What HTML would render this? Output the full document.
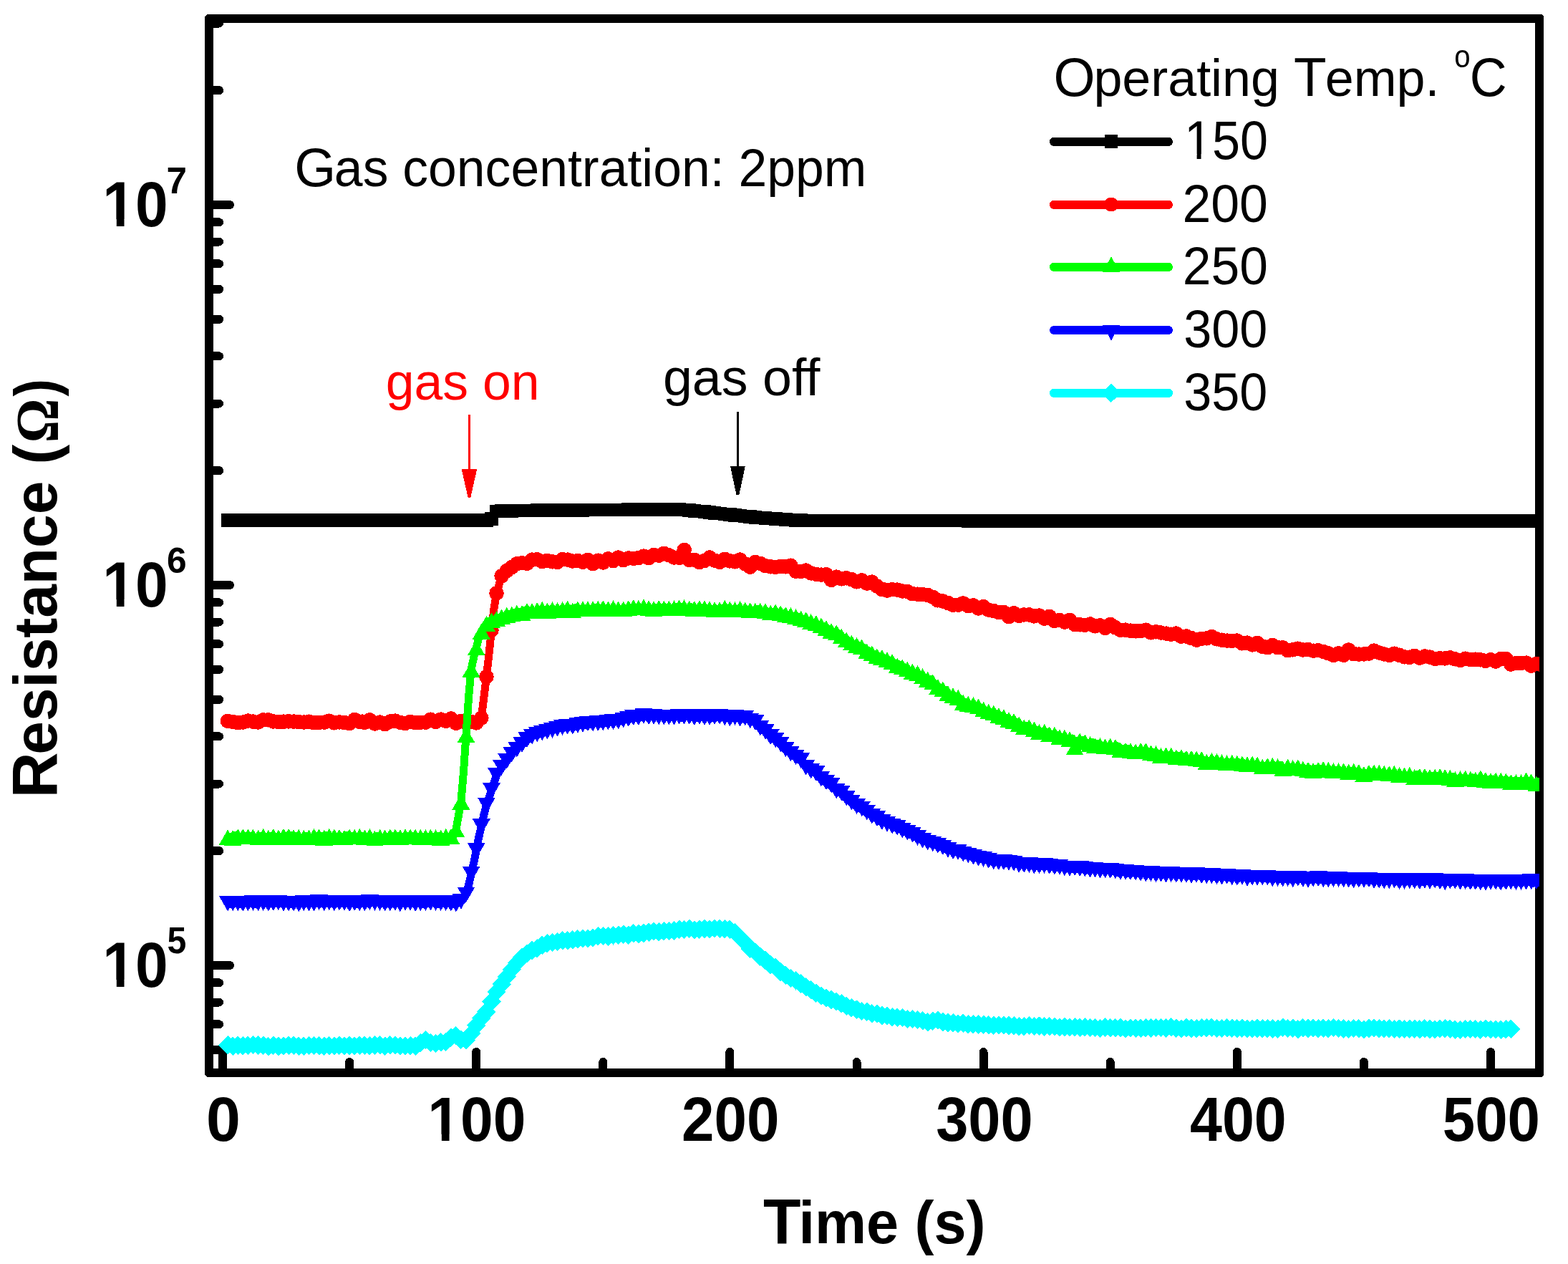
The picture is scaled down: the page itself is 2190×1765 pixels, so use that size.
<!DOCTYPE html><html><head><meta charset="utf-8"><title>Resistance vs Time</title>
<style>html,body{margin:0;padding:0;background:#fff}svg{display:block}</style></head><body>
<svg width="2190" height="1765" viewBox="0 0 2190 1765" shape-rendering="crispEdges">
<rect width="2190" height="1765" fill="#fff"/>
<defs><clipPath id="pa"><rect x="292" y="26" width="1858" height="1472"/></clipPath><clipPath id="footb85"><path clip-rule="evenodd" d="M-3000 -3000H3000V3000H-3000ZM-5 -9.10V3H20.17V-9.10ZM31.25 -9.10V3H46.33V-9.10Z"/></clipPath><clipPath id="footn72"><path clip-rule="evenodd" d="M-3000 -3000H3000V3000H-3000ZM-5 -6.36V3H18.20V-6.36ZM24.28 -6.36V3H38.16V-6.36Z"/></clipPath></defs>
<path d="M289 20H2153L2156 23V1501L2153 1504H289L286 1501V23ZM298 32V1492H2144V32Z" fill="#000" fill-rule="evenodd"/>
<path d="M292 1465.8H306M292 1430.3H306M292 1399.5H306M292 1372.3H306M292 1348H321M292 1188.2H306M292 1094.6H306M292 1028.3H306M292 976.8H306M292 934.8H306M292 899.3H306M292 868.5H306M292 841.3H306M292 817H321M292 657.2H306M292 563.6H306M292 497.3H306M292 445.8H306M292 403.8H306M292 368.3H306M292 337.5H306M292 310.3H306M292 286H321M292 126.2H306M292 32.6H306M311 1498V1469M488.1 1498V1483M665.2 1498V1469M842.3 1498V1483M1019.4 1498V1469M1196.5 1498V1483M1373.6 1498V1469M1550.7 1498V1483M1727.8 1498V1469M1904.9 1498V1483M2082 1498V1469" stroke="#000" stroke-width="12" stroke-linecap="round" fill="none"/>
<g clip-path="url(#pa)">
<polyline points="318.1,726.4 321.6,726.4 325.2,726.4 328.7,726.4 332.3,726.4 335.8,726.4 339.3,726.4 342.9,726.4 346.4,726.4 350,726.4 353.5,726.4 357,726.4 360.6,726.4 364.1,726.4 367.7,726.4 371.2,726.4 374.8,726.4 378.3,726.4 381.8,726.4 385.4,726.4 388.9,726.4 392.5,726.4 396,726.4 399.6,726.4 403.1,726.4 406.6,726.4 410.2,726.4 413.7,726.4 417.3,726.4 420.8,726.4 424.3,726.4 427.9,726.4 431.4,726.4 435,726.4 438.5,726.4 442.1,726.4 445.6,726.4 449.1,726.4 452.7,726.4 456.2,726.4 459.8,726.4 463.3,726.4 466.8,726.4 470.4,726.4 473.9,726.4 477.5,726.4 481,726.4 484.6,726.4 488.1,726.4 491.6,726.4 495.2,726.4 498.7,726.4 502.3,726.4 505.8,726.4 509.4,726.4 512.9,726.4 516.4,726.4 520,726.4 523.5,726.4 527.1,726.4 530.6,726.4 534.1,726.4 537.7,726.4 541.2,726.4 544.8,726.4 548.3,726.4 551.9,726.4 555.4,726.4 558.9,726.4 562.5,726.4 566,726.4 569.6,726.4 573.1,726.4 576.6,726.4 580.2,726.4 583.7,726.4 587.3,726.4 590.8,726.4 594.4,726.4 597.9,726.4 601.4,726.4 605,726.4 608.5,726.4 612.1,726.4 615.6,726.4 619.2,726.4 622.7,726.4 626.2,726.4 629.8,726.4 633.3,726.4 636.9,726.4 640.4,726.4 643.9,726.4 647.5,726.4 651,726.4 654.6,726.4 658.1,726.4 661.7,726.4 665.2,726.4 668.7,726.4 672.3,726.4 675.8,726.4 679.4,726.4 682.9,726.4 686.5,724.7 690,714.4 693.5,713.9 697.1,713.6 700.6,713.5 704.2,713.4 707.7,713.3 711.2,713.2 714.8,713.2 718.3,713.1 721.9,713 725.4,713 729,712.9 732.5,712.9 736,712.8 739.6,712.8 743.1,712.8 746.7,712.7 750.2,712.7 753.8,712.7 757.3,712.6 760.8,712.6 764.4,712.6 767.9,712.6 771.5,712.5 775,712.5 778.5,712.5 782.1,712.5 785.6,712.4 789.2,712.4 792.7,712.4 796.3,712.3 799.8,712.3 803.3,712.3 806.9,712.3 810.4,712.2 814,712.2 817.5,712.2 821,712.1 824.6,712.1 828.1,712.1 831.7,712.1 835.2,712 838.8,712 842.3,712 845.8,711.9 849.4,711.9 852.9,711.9 856.5,711.9 860,711.8 863.6,711.8 867.1,711.8 870.6,711.8 874.2,711.7 877.7,711.7 881.3,711.7 884.8,711.7 888.3,711.7 891.9,711.6 895.4,711.6 899,711.6 902.5,711.6 906.1,711.6 909.6,711.6 913.1,711.5 916.7,711.5 920.2,711.5 923.8,711.5 927.3,711.5 930.9,711.5 934.4,711.5 937.9,711.5 941.5,711.5 945,711.6 948.6,711.7 952.1,711.9 955.6,712.1 959.2,712.4 962.7,712.6 966.3,712.9 969.8,713.2 973.4,713.5 976.9,713.8 980.4,714.2 984,714.6 987.5,715 991.1,715.5 994.6,715.9 998.1,716.3 1001.7,716.7 1005.2,717.1 1008.8,717.4 1012.3,717.8 1015.9,718.2 1019.4,718.6 1022.9,719 1026.5,719.3 1030,719.7 1033.6,720.1 1037.1,720.5 1040.7,720.8 1044.2,721.2 1047.7,721.6 1051.3,722 1054.8,722.3 1058.4,722.7 1061.9,723 1065.4,723.3 1069,723.6 1072.5,723.9 1076.1,724.1 1079.6,724.4 1083.2,724.6 1086.7,724.8 1090.2,725 1093.8,725.2 1097.3,725.4 1100.9,725.5 1104.4,725.8 1107.9,726 1111.5,726.2 1115,726.5 1118.6,726.7 1122.1,726.8 1125.7,726.9 1129.2,727 1132.7,727 1136.3,727 1139.8,727 1143.4,727 1146.9,727 1150.5,727 1154,727 1157.5,727 1161.1,727 1164.6,727 1168.2,727 1171.7,727 1175.2,727 1178.8,727 1182.3,727 1185.9,727 1189.4,727 1193,727 1196.5,727.1 1200,727.1 1203.6,727.1 1207.1,727.1 1210.7,727.1 1214.2,727.1 1217.8,727.1 1221.3,727.1 1224.8,727.1 1228.4,727.1 1231.9,727.1 1235.5,727.1 1239,727.1 1242.5,727.1 1246.1,727.1 1249.6,727.1 1253.2,727.1 1256.7,727.1 1260.3,727.1 1263.8,727.1 1267.3,727.1 1270.9,727.1 1274.4,727.1 1278,727.1 1281.5,727.1 1285,727.1 1288.6,727.1 1292.1,727.1 1295.7,727.1 1299.2,727.1 1302.8,727.1 1306.3,727.1 1309.8,727.1 1313.4,727.1 1316.9,727.1 1320.5,727.1 1324,727.1 1327.6,727.1 1331.1,727.1 1334.6,727.1 1338.2,727.1 1341.7,727.1 1345.3,727.1 1348.8,727.1 1352.3,727.2 1355.9,727.2 1359.4,727.2 1363,727.2 1366.5,727.2 1370.1,727.2 1373.6,727.2 1377.1,727.2 1380.7,727.2 1384.2,727.2 1387.8,727.2 1391.3,727.2 1394.9,727.2 1398.4,727.2 1401.9,727.2 1405.5,727.2 1409,727.2 1412.6,727.2 1416.1,727.2 1419.6,727.2 1423.2,727.2 1426.7,727.2 1430.3,727.2 1433.8,727.2 1437.4,727.2 1440.9,727.2 1444.4,727.2 1448,727.2 1451.5,727.2 1455.1,727.2 1458.6,727.2 1462.1,727.2 1465.7,727.2 1469.2,727.2 1472.8,727.2 1476.3,727.2 1479.9,727.2 1483.4,727.2 1486.9,727.2 1490.5,727.2 1494,727.2 1497.6,727.2 1501.1,727.2 1504.7,727.2 1508.2,727.2 1511.7,727.2 1515.3,727.2 1518.8,727.2 1522.4,727.2 1525.9,727.2 1529.4,727.2 1533,727.2 1536.5,727.2 1540.1,727.2 1543.6,727.2 1547.2,727.2 1550.7,727.2 1554.2,727.2 1557.8,727.2 1561.3,727.2 1564.9,727.2 1568.4,727.2 1572,727.2 1575.5,727.2 1579,727.2 1582.6,727.2 1586.1,727.2 1589.7,727.2 1593.2,727.2 1596.7,727.2 1600.3,727.2 1603.8,727.2 1607.4,727.2 1610.9,727.2 1614.5,727.3 1618,727.3 1621.5,727.3 1625.1,727.3 1628.6,727.3 1632.2,727.3 1635.7,727.3 1639.2,727.3 1642.8,727.3 1646.3,727.3 1649.9,727.3 1653.4,727.3 1657,727.3 1660.5,727.3 1664,727.3 1667.6,727.3 1671.1,727.3 1674.7,727.3 1678.2,727.3 1681.8,727.3 1685.3,727.3 1688.8,727.3 1692.4,727.3 1695.9,727.3 1699.5,727.3 1703,727.3 1706.5,727.3 1710.1,727.3 1713.6,727.3 1717.2,727.3 1720.7,727.3 1724.3,727.3 1727.8,727.3 1731.3,727.3 1734.9,727.3 1738.4,727.3 1742,727.3 1745.5,727.3 1749.1,727.3 1752.6,727.3 1756.1,727.3 1759.7,727.3 1763.2,727.3 1766.8,727.3 1770.3,727.3 1773.8,727.3 1777.4,727.3 1780.9,727.3 1784.5,727.3 1788,727.3 1791.6,727.3 1795.1,727.3 1798.6,727.3 1802.2,727.3 1805.7,727.3 1809.3,727.3 1812.8,727.3 1816.3,727.3 1819.9,727.3 1823.4,727.3 1827,727.3 1830.5,727.3 1834.1,727.3 1837.6,727.3 1841.1,727.3 1844.7,727.3 1848.2,727.3 1851.8,727.3 1855.3,727.3 1858.9,727.3 1862.4,727.3 1865.9,727.3 1869.5,727.3 1873,727.3 1876.6,727.3 1880.1,727.3 1883.6,727.3 1887.2,727.3 1890.7,727.3 1894.3,727.3 1897.8,727.3 1901.4,727.3 1904.9,727.3 1908.4,727.3 1912,727.3 1915.5,727.3 1919.1,727.3 1922.6,727.3 1926.2,727.3 1929.7,727.3 1933.2,727.3 1936.8,727.3 1940.3,727.3 1943.9,727.3 1947.4,727.3 1950.9,727.3 1954.5,727.3 1958,727.3 1961.6,727.3 1965.1,727.3 1968.7,727.3 1972.2,727.3 1975.7,727.3 1979.3,727.3 1982.8,727.3 1986.4,727.3 1989.9,727.3 1993.4,727.3 1997,727.3 2000.5,727.3 2004.1,727.3 2007.6,727.3 2011.2,727.3 2014.7,727.3 2018.2,727.3 2021.8,727.3 2025.3,727.3 2028.9,727.3 2032.4,727.3 2036,727.3 2039.5,727.3 2043,727.3 2046.6,727.3 2050.1,727.3 2053.7,727.3 2057.2,727.3 2060.7,727.3 2064.3,727.3 2067.8,727.3 2071.4,727.3 2074.9,727.3 2078.5,727.3 2082,727.3 2085.5,727.3 2089.1,727.3 2092.6,727.3 2096.2,727.3 2099.7,727.3 2103.3,727.3 2106.8,727.3 2110.3,727.3 2113.9,727.3 2117.4,727.3 2121,727.3 2124.5,727.3 2128,727.3 2131.6,727.3 2135.1,727.3 2138.7,727.3 2142.2,727.3 2145.8,727.3 2149.3,727.3 2152.8,727.3 2156.4,727.3" fill="none" stroke="#000" stroke-width="12" stroke-linejoin="round" stroke-linecap="round"/>
<path d="M308.8 717.1h18.6v18.6h-18.6zM315.9 717.1h18.6v18.6h-18.6zM323 717.1h18.6v18.6h-18.6zM330 717.1h18.6v18.6h-18.6zM337.1 717.1h18.6v18.6h-18.6zM344.2 717.1h18.6v18.6h-18.6zM351.3 717.1h18.6v18.6h-18.6zM358.4 717.1h18.6v18.6h-18.6zM365.5 717.1h18.6v18.6h-18.6zM372.5 717.1h18.6v18.6h-18.6zM379.6 717.1h18.6v18.6h-18.6zM386.7 717.1h18.6v18.6h-18.6zM393.8 717.1h18.6v18.6h-18.6zM400.9 717.1h18.6v18.6h-18.6zM408 717.1h18.6v18.6h-18.6zM415 717.1h18.6v18.6h-18.6zM422.1 717.1h18.6v18.6h-18.6zM429.2 717.1h18.6v18.6h-18.6zM436.3 717.1h18.6v18.6h-18.6zM443.4 717.1h18.6v18.6h-18.6zM450.5 717.1h18.6v18.6h-18.6zM457.5 717.1h18.6v18.6h-18.6zM464.6 717.1h18.6v18.6h-18.6zM471.7 717.1h18.6v18.6h-18.6zM478.8 717.1h18.6v18.6h-18.6zM485.9 717.1h18.6v18.6h-18.6zM493 717.1h18.6v18.6h-18.6zM500.1 717.1h18.6v18.6h-18.6zM507.1 717.1h18.6v18.6h-18.6zM514.2 717.1h18.6v18.6h-18.6zM521.3 717.1h18.6v18.6h-18.6zM528.4 717.1h18.6v18.6h-18.6zM535.5 717.1h18.6v18.6h-18.6zM542.6 717.1h18.6v18.6h-18.6zM549.6 717.1h18.6v18.6h-18.6zM556.7 717.1h18.6v18.6h-18.6zM563.8 717.1h18.6v18.6h-18.6zM570.9 717.1h18.6v18.6h-18.6zM578 717.1h18.6v18.6h-18.6zM585.1 717.1h18.6v18.6h-18.6zM592.1 717.1h18.6v18.6h-18.6zM599.2 717.1h18.6v18.6h-18.6zM606.3 717.1h18.6v18.6h-18.6zM613.4 717.1h18.6v18.6h-18.6zM620.5 717.1h18.6v18.6h-18.6zM627.6 717.1h18.6v18.6h-18.6zM634.6 717.1h18.6v18.6h-18.6zM641.7 717.1h18.6v18.6h-18.6zM648.8 717.1h18.6v18.6h-18.6zM655.9 717.1h18.6v18.6h-18.6zM663 717.1h18.6v18.6h-18.6zM670.1 717.1h18.6v18.6h-18.6zM677.2 715.4h18.6v18.6h-18.6zM684.2 704.6h18.6v18.6h-18.6zM691.3 704.2h18.6v18.6h-18.6zM698.4 704h18.6v18.6h-18.6zM705.5 703.9h18.6v18.6h-18.6zM712.6 703.7h18.6v18.6h-18.6zM719.7 703.6h18.6v18.6h-18.6zM726.7 703.5h18.6v18.6h-18.6zM733.8 703.5h18.6v18.6h-18.6zM740.9 703.4h18.6v18.6h-18.6zM748 703.3h18.6v18.6h-18.6zM755.1 703.3h18.6v18.6h-18.6zM762.2 703.2h18.6v18.6h-18.6zM769.2 703.2h18.6v18.6h-18.6zM776.3 703.1h18.6v18.6h-18.6zM783.4 703.1h18.6v18.6h-18.6zM790.5 703h18.6v18.6h-18.6zM797.6 703h18.6v18.6h-18.6zM804.7 702.9h18.6v18.6h-18.6zM811.7 702.8h18.6v18.6h-18.6zM818.8 702.8h18.6v18.6h-18.6zM825.9 702.7h18.6v18.6h-18.6zM833 702.7h18.6v18.6h-18.6zM840.1 702.6h18.6v18.6h-18.6zM847.2 702.6h18.6v18.6h-18.6zM854.3 702.5h18.6v18.6h-18.6zM861.3 702.5h18.6v18.6h-18.6zM868.4 702.4h18.6v18.6h-18.6zM875.5 702.4h18.6v18.6h-18.6zM882.6 702.3h18.6v18.6h-18.6zM889.7 702.3h18.6v18.6h-18.6zM896.8 702.3h18.6v18.6h-18.6zM903.8 702.2h18.6v18.6h-18.6zM910.9 702.2h18.6v18.6h-18.6zM918 702.2h18.6v18.6h-18.6zM925.1 702.2h18.6v18.6h-18.6zM932.2 702.2h18.6v18.6h-18.6zM939.3 702.4h18.6v18.6h-18.6zM946.3 702.8h18.6v18.6h-18.6zM953.4 703.3h18.6v18.6h-18.6zM960.5 703.9h18.6v18.6h-18.6zM967.6 704.5h18.6v18.6h-18.6zM974.7 705.3h18.6v18.6h-18.6zM981.8 706.2h18.6v18.6h-18.6zM988.8 707h18.6v18.6h-18.6zM995.9 707.8h18.6v18.6h-18.6zM1003 708.5h18.6v18.6h-18.6zM1010.1 709.3h18.6v18.6h-18.6zM1017.2 710h18.6v18.6h-18.6zM1024.3 710.8h18.6v18.6h-18.6zM1031.4 711.5h18.6v18.6h-18.6zM1038.4 712.3h18.6v18.6h-18.6zM1045.5 713h18.6v18.6h-18.6zM1052.6 713.7h18.6v18.6h-18.6zM1059.7 714.3h18.6v18.6h-18.6zM1066.8 714.8h18.6v18.6h-18.6zM1073.9 715.3h18.6v18.6h-18.6zM1080.9 715.7h18.6v18.6h-18.6zM1088 716.1h18.6v18.6h-18.6zM1095.1 716.5h18.6v18.6h-18.6zM1102.2 716.9h18.6v18.6h-18.6zM1109.3 717.4h18.6v18.6h-18.6zM1116.4 717.6h18.6v18.6h-18.6zM1123.4 717.7h18.6v18.6h-18.6zM1130.5 717.7h18.6v18.6h-18.6zM1137.6 717.7h18.6v18.6h-18.6zM1144.7 717.7h18.6v18.6h-18.6zM1151.8 717.7h18.6v18.6h-18.6zM1158.9 717.7h18.6v18.6h-18.6zM1165.9 717.7h18.6v18.6h-18.6zM1173 717.7h18.6v18.6h-18.6zM1180.1 717.7h18.6v18.6h-18.6zM1187.2 717.8h18.6v18.6h-18.6zM1194.3 717.8h18.6v18.6h-18.6zM1201.4 717.8h18.6v18.6h-18.6zM1208.5 717.8h18.6v18.6h-18.6zM1215.5 717.8h18.6v18.6h-18.6zM1222.6 717.8h18.6v18.6h-18.6zM1229.7 717.8h18.6v18.6h-18.6zM1236.8 717.8h18.6v18.6h-18.6zM1243.9 717.8h18.6v18.6h-18.6zM1251 717.8h18.6v18.6h-18.6zM1258 717.8h18.6v18.6h-18.6zM1265.1 717.8h18.6v18.6h-18.6zM1272.2 717.8h18.6v18.6h-18.6zM1279.3 717.8h18.6v18.6h-18.6zM1286.4 717.8h18.6v18.6h-18.6zM1293.5 717.8h18.6v18.6h-18.6zM1300.5 717.8h18.6v18.6h-18.6zM1307.6 717.8h18.6v18.6h-18.6zM1314.7 717.8h18.6v18.6h-18.6zM1321.8 717.8h18.6v18.6h-18.6zM1328.9 717.8h18.6v18.6h-18.6zM1336 717.8h18.6v18.6h-18.6zM1343 717.9h18.6v18.6h-18.6zM1350.1 717.9h18.6v18.6h-18.6zM1357.2 717.9h18.6v18.6h-18.6zM1364.3 717.9h18.6v18.6h-18.6zM1371.4 717.9h18.6v18.6h-18.6zM1378.5 717.9h18.6v18.6h-18.6zM1385.6 717.9h18.6v18.6h-18.6zM1392.6 717.9h18.6v18.6h-18.6zM1399.7 717.9h18.6v18.6h-18.6zM1406.8 717.9h18.6v18.6h-18.6zM1413.9 717.9h18.6v18.6h-18.6zM1421 717.9h18.6v18.6h-18.6zM1428.1 717.9h18.6v18.6h-18.6zM1435.1 717.9h18.6v18.6h-18.6zM1442.2 717.9h18.6v18.6h-18.6zM1449.3 717.9h18.6v18.6h-18.6zM1456.4 717.9h18.6v18.6h-18.6zM1463.5 717.9h18.6v18.6h-18.6zM1470.6 717.9h18.6v18.6h-18.6zM1477.6 717.9h18.6v18.6h-18.6zM1484.7 717.9h18.6v18.6h-18.6zM1491.8 717.9h18.6v18.6h-18.6zM1498.9 717.9h18.6v18.6h-18.6zM1506 717.9h18.6v18.6h-18.6zM1513.1 717.9h18.6v18.6h-18.6zM1520.1 717.9h18.6v18.6h-18.6zM1527.2 717.9h18.6v18.6h-18.6zM1534.3 717.9h18.6v18.6h-18.6zM1541.4 717.9h18.6v18.6h-18.6zM1548.5 717.9h18.6v18.6h-18.6zM1555.6 717.9h18.6v18.6h-18.6zM1562.7 717.9h18.6v18.6h-18.6zM1569.7 717.9h18.6v18.6h-18.6zM1576.8 717.9h18.6v18.6h-18.6zM1583.9 717.9h18.6v18.6h-18.6zM1591 717.9h18.6v18.6h-18.6zM1598.1 717.9h18.6v18.6h-18.6zM1605.2 718h18.6v18.6h-18.6zM1612.2 718h18.6v18.6h-18.6zM1619.3 718h18.6v18.6h-18.6zM1626.4 718h18.6v18.6h-18.6zM1633.5 718h18.6v18.6h-18.6zM1640.6 718h18.6v18.6h-18.6zM1647.7 718h18.6v18.6h-18.6zM1654.7 718h18.6v18.6h-18.6zM1661.8 718h18.6v18.6h-18.6zM1668.9 718h18.6v18.6h-18.6zM1676 718h18.6v18.6h-18.6zM1683.1 718h18.6v18.6h-18.6zM1690.2 718h18.6v18.6h-18.6zM1697.2 718h18.6v18.6h-18.6zM1704.3 718h18.6v18.6h-18.6zM1711.4 718h18.6v18.6h-18.6zM1718.5 718h18.6v18.6h-18.6zM1725.6 718h18.6v18.6h-18.6zM1732.7 718h18.6v18.6h-18.6zM1739.8 718h18.6v18.6h-18.6zM1746.8 718h18.6v18.6h-18.6zM1753.9 718h18.6v18.6h-18.6zM1761 718h18.6v18.6h-18.6zM1768.1 718h18.6v18.6h-18.6zM1775.2 718h18.6v18.6h-18.6zM1782.3 718h18.6v18.6h-18.6zM1789.3 718h18.6v18.6h-18.6zM1796.4 718h18.6v18.6h-18.6zM1803.5 718h18.6v18.6h-18.6zM1810.6 718h18.6v18.6h-18.6zM1817.7 718h18.6v18.6h-18.6zM1824.8 718h18.6v18.6h-18.6zM1831.8 718h18.6v18.6h-18.6zM1838.9 718h18.6v18.6h-18.6zM1846 718h18.6v18.6h-18.6zM1853.1 718h18.6v18.6h-18.6zM1860.2 718h18.6v18.6h-18.6zM1867.3 718h18.6v18.6h-18.6zM1874.3 718h18.6v18.6h-18.6zM1881.4 718h18.6v18.6h-18.6zM1888.5 718h18.6v18.6h-18.6zM1895.6 718h18.6v18.6h-18.6zM1902.7 718h18.6v18.6h-18.6zM1909.8 718h18.6v18.6h-18.6zM1916.9 718h18.6v18.6h-18.6zM1923.9 718h18.6v18.6h-18.6zM1931 718h18.6v18.6h-18.6zM1938.1 718h18.6v18.6h-18.6zM1945.2 718h18.6v18.6h-18.6zM1952.3 718h18.6v18.6h-18.6zM1959.4 718h18.6v18.6h-18.6zM1966.4 718h18.6v18.6h-18.6zM1973.5 718h18.6v18.6h-18.6zM1980.6 718h18.6v18.6h-18.6zM1987.7 718h18.6v18.6h-18.6zM1994.8 718h18.6v18.6h-18.6zM2001.9 718h18.6v18.6h-18.6zM2008.9 718h18.6v18.6h-18.6zM2016 718h18.6v18.6h-18.6zM2023.1 718h18.6v18.6h-18.6zM2030.2 718h18.6v18.6h-18.6zM2037.3 718h18.6v18.6h-18.6zM2044.4 718h18.6v18.6h-18.6zM2051.4 718h18.6v18.6h-18.6zM2058.5 718h18.6v18.6h-18.6zM2065.6 718h18.6v18.6h-18.6zM2072.7 718h18.6v18.6h-18.6zM2079.8 718h18.6v18.6h-18.6zM2086.9 718h18.6v18.6h-18.6zM2094 718h18.6v18.6h-18.6zM2101 718h18.6v18.6h-18.6zM2108.1 718h18.6v18.6h-18.6zM2115.2 718h18.6v18.6h-18.6zM2122.3 718h18.6v18.6h-18.6zM2129.4 718h18.6v18.6h-18.6zM2136.5 718h18.6v18.6h-18.6zM2143.5 718h18.6v18.6h-18.6z" fill="#000"/>
<polyline points="318.1,1006.8 321.6,1006.5 325.2,1007.9 328.7,1005.9 332.3,1009.2 335.8,1007.8 339.3,1008.5 342.9,1007.6 346.4,1006.5 350,1006.1 353.5,1007.5 357,1006.9 360.6,1008.5 364.1,1008 367.7,1005.3 371.2,1008.1 374.8,1005.3 378.3,1006.8 381.8,1007.4 385.4,1003.8 388.9,1008.2 392.5,1008.3 396,1007.7 399.6,1007.2 403.1,1007.3 406.6,1006 410.2,1007.5 413.7,1006.9 417.3,1008.2 420.8,1005.6 424.3,1008.5 427.9,1008.3 431.4,1007.7 435,1007.1 438.5,1009.1 442.1,1004.7 445.6,1008.9 449.1,1008.5 452.7,1008.6 456.2,1008.8 459.8,1006.7 463.3,1007.5 466.8,1009.3 470.4,1008.9 473.9,1008.4 477.5,1005 481,1009.1 484.6,1010.3 488.1,1010 491.6,1008.5 495.2,1004.9 498.7,1009.9 502.3,1007.7 505.8,1002.9 509.4,1008.8 512.9,1005 516.4,1005.4 520,1006.7 523.5,1010.5 527.1,1007.3 530.6,1008.5 534.1,1011.5 537.7,1011.2 541.2,1007.8 544.8,1007.5 548.3,1005.5 551.9,1006.6 555.4,1008.9 558.9,1008.8 562.5,1008.2 566,1010 569.6,1006.5 573.1,1007.9 576.6,1009.5 580.2,1009.2 583.7,1010.1 587.3,1008.8 590.8,1007.4 594.4,1008.7 597.9,1006 601.4,1004.7 605,1009.2 608.5,1007.9 612.1,1008.6 615.6,1004.6 619.2,1007.3 622.7,1006.8 626.2,1006.3 629.8,1003.5 633.3,1007.3 636.9,1009.8 640.4,1008.8 643.9,1006.8 647.5,1008 651,1009.5 654.6,1002.5 658.1,1007.8 661.7,1009.1 665.2,1009.4 668.7,1010.2 672.3,1002.6 675.8,974.5 679.4,945 682.9,914 686.5,880 690,849.5 693.5,828.3 697.1,816.4 700.6,804.3 704.2,799.9 707.7,797.1 711.2,796.9 714.8,792.1 718.3,793.5 721.9,787.2 725.4,787.5 729,786.3 732.5,787.2 736,786.8 739.6,781 743.1,781.7 746.7,783.7 750.2,781.3 753.8,779.2 757.3,784.1 760.8,783 764.4,783 767.9,781.2 771.5,784.4 775,782 778.5,784.9 782.1,781 785.6,781.2 789.2,783.4 792.7,781.6 796.3,784.3 799.8,783.5 803.3,781.1 806.9,783.1 810.4,782.2 814,784.7 817.5,781.6 821,781.9 824.6,785.2 828.1,787.2 831.7,786.6 835.2,782.7 838.8,783 842.3,785.5 845.8,782.1 849.4,780.3 852.9,782.4 856.5,783 860,780.3 863.6,778.5 867.1,778.5 870.6,782.2 874.2,778.8 877.7,779.4 881.3,779.5 884.8,779.8 888.3,777.5 891.9,778.9 895.4,775.8 899,776.6 902.5,775 906.1,779.1 909.6,776.6 913.1,775 916.7,775.6 920.2,775.7 923.8,777.5 927.3,772.8 930.9,773.9 934.4,775.3 937.9,781.4 941.5,778.5 945,776.8 948.6,778.8 952.1,782 955.6,768 959.2,778.2 962.7,781.9 966.3,780.9 969.8,781.8 973.4,779.8 976.9,785 980.4,784.9 984,782.9 987.5,783.5 991.1,778.4 994.6,784 998.1,782.6 1001.7,784.1 1005.2,784.9 1008.8,783.2 1012.3,780.8 1015.9,785.2 1019.4,783.3 1022.9,784.4 1026.5,784.2 1030,785.1 1033.6,781.5 1037.1,789 1040.7,787.4 1044.2,789.5 1047.7,791.7 1051.3,788.1 1054.8,784.9 1058.4,787.1 1061.9,786.8 1065.4,788.6 1069,790.2 1072.5,786.3 1076.1,791.3 1079.6,787.9 1083.2,791.8 1086.7,791.3 1090.2,791.1 1093.8,791.9 1097.3,791.3 1100.9,791.5 1104.4,789.7 1107.9,793.4 1111.5,797.7 1115,798.5 1118.6,797.9 1122.1,797.9 1125.7,796.5 1129.2,802.1 1132.7,800.4 1136.3,801.5 1139.8,801.8 1143.4,803.1 1146.9,802.6 1150.5,803.9 1154,802.3 1157.5,804.2 1161.1,809.9 1164.6,805.6 1168.2,805.6 1171.7,807.5 1175.2,808.3 1178.8,805 1182.3,807.3 1185.9,809.9 1189.4,809.1 1193,809.2 1196.5,812.4 1200,808.4 1203.6,810.4 1207.1,809.8 1210.7,814.6 1214.2,808.8 1217.8,812.7 1221.3,814.5 1224.8,818.5 1228.4,820 1231.9,823.2 1235.5,818.7 1239,824.5 1242.5,823.3 1246.1,823.2 1249.6,826.1 1253.2,823.6 1256.7,821.7 1260.3,825.5 1263.8,823.7 1267.3,825.9 1270.9,828.6 1274.4,829.2 1278,832.5 1281.5,829.7 1285,827.8 1288.6,830.2 1292.1,830.6 1295.7,830.9 1299.2,835.1 1302.8,833.8 1306.3,832.1 1309.8,838.3 1313.4,837.6 1316.9,839.5 1320.5,839.9 1324,841.9 1327.6,841.6 1331.1,844.8 1334.6,844 1338.2,844.7 1341.7,845.5 1345.3,842.4 1348.8,845.7 1352.3,846.2 1355.9,847.8 1359.4,845.3 1363,851.9 1366.5,849.5 1370.1,847.5 1373.6,847.1 1377.1,850.5 1380.7,851.5 1384.2,850.8 1387.8,853 1391.3,852.1 1394.9,855 1398.4,853 1401.9,855 1405.5,857.6 1409,861.3 1412.6,854.7 1416.1,856.3 1419.6,856.1 1423.2,859.9 1426.7,856.5 1430.3,858.4 1433.8,859.8 1437.4,858.4 1440.9,859 1444.4,860.4 1448,857.7 1451.5,859.5 1455.1,862 1458.6,863.7 1462.1,863.5 1465.7,860.8 1469.2,863.9 1472.8,866.9 1476.3,866.9 1479.9,866.1 1483.4,865 1486.9,868.5 1490.5,866.5 1494,865.8 1497.6,867 1501.1,872 1504.7,870 1508.2,872.3 1511.7,869.5 1515.3,872.8 1518.8,870.2 1522.4,871.5 1525.9,877.2 1529.4,874.3 1533,872.2 1536.5,873.4 1540.1,874.7 1543.6,876.9 1547.2,874 1550.7,871.9 1554.2,875.3 1557.8,876.3 1561.3,876.9 1564.9,879.8 1568.4,878.2 1572,879.7 1575.5,876.3 1579,880.7 1582.6,883.5 1586.1,881.3 1589.7,880.7 1593.2,881 1596.7,884.7 1600.3,879.7 1603.8,881.7 1607.4,883.3 1610.9,884.3 1614.5,882.3 1618,884.3 1621.5,883.5 1625.1,884.7 1628.6,884.6 1632.2,883 1635.7,885.7 1639.2,887.9 1642.8,884.6 1646.3,886.5 1649.9,888.7 1653.4,885.6 1657,888.5 1660.5,886.4 1664,891.1 1667.6,893.9 1671.1,893.7 1674.7,889.5 1678.2,891.8 1681.8,891 1685.3,891.3 1688.8,894.5 1692.4,889.2 1695.9,894.3 1699.5,892.4 1703,895.7 1706.5,893.7 1710.1,892.3 1713.6,894.6 1717.2,895.9 1720.7,894.9 1724.3,896.2 1727.8,894.6 1731.3,891.8 1734.9,898.3 1738.4,898.3 1742,897.7 1745.5,898 1749.1,900.4 1752.6,897.9 1756.1,897.9 1759.7,899.5 1763.2,902.9 1766.8,898.4 1770.3,904.2 1773.8,901.3 1777.4,901 1780.9,906.3 1784.5,904.1 1788,902.2 1791.6,904.4 1795.1,907.4 1798.6,908.2 1802.2,905.3 1805.7,907.3 1809.3,908.2 1812.8,905.7 1816.3,908 1819.9,907.5 1823.4,906.8 1827,907.1 1830.5,908.5 1834.1,908.7 1837.6,907.7 1841.1,908.2 1844.7,911.5 1848.2,909.9 1851.8,911.5 1855.3,912.3 1858.9,911.3 1862.4,914.9 1865.9,908.9 1869.5,912.3 1873,910.3 1876.6,914.8 1880.1,914.7 1883.6,907.5 1887.2,909.7 1890.7,913.1 1894.3,913.5 1897.8,913.6 1901.4,912.2 1904.9,913.4 1908.4,913.9 1912,912.6 1915.5,915 1919.1,908.6 1922.6,914.6 1926.2,911.4 1929.7,915.6 1933.2,913.4 1936.8,912.2 1940.3,914.9 1943.9,912.5 1947.4,912.7 1950.9,911.6 1954.5,914.8 1958,916.1 1961.6,917.3 1965.1,915.2 1968.7,917.8 1972.2,915.9 1975.7,915.9 1979.3,917.5 1982.8,918.7 1986.4,916.1 1989.9,916.5 1993.4,916.9 1997,917.6 2000.5,915.8 2004.1,919.9 2007.6,917.2 2011.2,919.2 2014.7,916.8 2018.2,919.4 2021.8,919.7 2025.3,918.3 2028.9,923.4 2032.4,920.3 2036,923.3 2039.5,921.9 2043,918.9 2046.6,919.7 2050.1,921.5 2053.7,921 2057.2,921.2 2060.7,920.7 2064.3,917.9 2067.8,921.3 2071.4,917.5 2074.9,922.9 2078.5,921 2082,921.2 2085.5,922.4 2089.1,923.6 2092.6,920.4 2096.2,920 2099.7,921.6 2103.3,919.9 2106.8,922.2 2110.3,927.6 2113.9,922.5 2117.4,926.1 2121,922.3 2124.5,925.9 2128,924.9 2131.6,925.6 2135.1,927.1 2138.7,929.7 2142.2,926.8 2145.8,926.9 2149.3,924.9 2152.8,928.2 2156.4,926.8" fill="none" stroke="#f00" stroke-width="11" stroke-linejoin="round" stroke-linecap="round"/>
<path d="M307.8 1006.8a10.3 10.3 0 1 0 20.6 0a10.3 10.3 0 1 0 -20.6 0zM314.9 1007.9a10.3 10.3 0 1 0 20.6 0a10.3 10.3 0 1 0 -20.6 0zM322 1009.2a10.3 10.3 0 1 0 20.6 0a10.3 10.3 0 1 0 -20.6 0zM329 1008.5a10.3 10.3 0 1 0 20.6 0a10.3 10.3 0 1 0 -20.6 0zM336.1 1006.5a10.3 10.3 0 1 0 20.6 0a10.3 10.3 0 1 0 -20.6 0zM343.2 1007.5a10.3 10.3 0 1 0 20.6 0a10.3 10.3 0 1 0 -20.6 0zM350.3 1008.5a10.3 10.3 0 1 0 20.6 0a10.3 10.3 0 1 0 -20.6 0zM357.4 1005.3a10.3 10.3 0 1 0 20.6 0a10.3 10.3 0 1 0 -20.6 0zM364.5 1005.3a10.3 10.3 0 1 0 20.6 0a10.3 10.3 0 1 0 -20.6 0zM371.5 1007.4a10.3 10.3 0 1 0 20.6 0a10.3 10.3 0 1 0 -20.6 0zM378.6 1008.2a10.3 10.3 0 1 0 20.6 0a10.3 10.3 0 1 0 -20.6 0zM385.7 1007.7a10.3 10.3 0 1 0 20.6 0a10.3 10.3 0 1 0 -20.6 0zM392.8 1007.3a10.3 10.3 0 1 0 20.6 0a10.3 10.3 0 1 0 -20.6 0zM399.9 1007.5a10.3 10.3 0 1 0 20.6 0a10.3 10.3 0 1 0 -20.6 0zM407 1008.2a10.3 10.3 0 1 0 20.6 0a10.3 10.3 0 1 0 -20.6 0zM414 1008.5a10.3 10.3 0 1 0 20.6 0a10.3 10.3 0 1 0 -20.6 0zM421.1 1007.7a10.3 10.3 0 1 0 20.6 0a10.3 10.3 0 1 0 -20.6 0zM428.2 1009.1a10.3 10.3 0 1 0 20.6 0a10.3 10.3 0 1 0 -20.6 0zM435.3 1008.9a10.3 10.3 0 1 0 20.6 0a10.3 10.3 0 1 0 -20.6 0zM442.4 1008.6a10.3 10.3 0 1 0 20.6 0a10.3 10.3 0 1 0 -20.6 0zM449.5 1006.7a10.3 10.3 0 1 0 20.6 0a10.3 10.3 0 1 0 -20.6 0zM456.5 1009.3a10.3 10.3 0 1 0 20.6 0a10.3 10.3 0 1 0 -20.6 0zM463.6 1008.4a10.3 10.3 0 1 0 20.6 0a10.3 10.3 0 1 0 -20.6 0zM470.7 1009.1a10.3 10.3 0 1 0 20.6 0a10.3 10.3 0 1 0 -20.6 0zM477.8 1010a10.3 10.3 0 1 0 20.6 0a10.3 10.3 0 1 0 -20.6 0zM484.9 1004.9a10.3 10.3 0 1 0 20.6 0a10.3 10.3 0 1 0 -20.6 0zM492 1007.7a10.3 10.3 0 1 0 20.6 0a10.3 10.3 0 1 0 -20.6 0zM499.1 1008.8a10.3 10.3 0 1 0 20.6 0a10.3 10.3 0 1 0 -20.6 0zM506.1 1005.4a10.3 10.3 0 1 0 20.6 0a10.3 10.3 0 1 0 -20.6 0zM513.2 1010.5a10.3 10.3 0 1 0 20.6 0a10.3 10.3 0 1 0 -20.6 0zM520.3 1008.5a10.3 10.3 0 1 0 20.6 0a10.3 10.3 0 1 0 -20.6 0zM527.4 1011.2a10.3 10.3 0 1 0 20.6 0a10.3 10.3 0 1 0 -20.6 0zM534.5 1007.5a10.3 10.3 0 1 0 20.6 0a10.3 10.3 0 1 0 -20.6 0zM541.6 1006.6a10.3 10.3 0 1 0 20.6 0a10.3 10.3 0 1 0 -20.6 0zM548.6 1008.8a10.3 10.3 0 1 0 20.6 0a10.3 10.3 0 1 0 -20.6 0zM555.7 1010a10.3 10.3 0 1 0 20.6 0a10.3 10.3 0 1 0 -20.6 0zM562.8 1007.9a10.3 10.3 0 1 0 20.6 0a10.3 10.3 0 1 0 -20.6 0zM569.9 1009.2a10.3 10.3 0 1 0 20.6 0a10.3 10.3 0 1 0 -20.6 0zM577 1008.8a10.3 10.3 0 1 0 20.6 0a10.3 10.3 0 1 0 -20.6 0zM584.1 1008.7a10.3 10.3 0 1 0 20.6 0a10.3 10.3 0 1 0 -20.6 0zM591.1 1004.7a10.3 10.3 0 1 0 20.6 0a10.3 10.3 0 1 0 -20.6 0zM598.2 1007.9a10.3 10.3 0 1 0 20.6 0a10.3 10.3 0 1 0 -20.6 0zM605.3 1004.6a10.3 10.3 0 1 0 20.6 0a10.3 10.3 0 1 0 -20.6 0zM612.4 1006.8a10.3 10.3 0 1 0 20.6 0a10.3 10.3 0 1 0 -20.6 0zM619.5 1003.5a10.3 10.3 0 1 0 20.6 0a10.3 10.3 0 1 0 -20.6 0zM626.6 1009.8a10.3 10.3 0 1 0 20.6 0a10.3 10.3 0 1 0 -20.6 0zM633.6 1006.8a10.3 10.3 0 1 0 20.6 0a10.3 10.3 0 1 0 -20.6 0zM640.7 1009.5a10.3 10.3 0 1 0 20.6 0a10.3 10.3 0 1 0 -20.6 0zM647.8 1007.8a10.3 10.3 0 1 0 20.6 0a10.3 10.3 0 1 0 -20.6 0zM654.9 1009.4a10.3 10.3 0 1 0 20.6 0a10.3 10.3 0 1 0 -20.6 0zM662 1002.6a10.3 10.3 0 1 0 20.6 0a10.3 10.3 0 1 0 -20.6 0zM669.1 945a10.3 10.3 0 1 0 20.6 0a10.3 10.3 0 1 0 -20.6 0zM676.2 880a10.3 10.3 0 1 0 20.6 0a10.3 10.3 0 1 0 -20.6 0zM683.2 828.3a10.3 10.3 0 1 0 20.6 0a10.3 10.3 0 1 0 -20.6 0zM690.3 804.3a10.3 10.3 0 1 0 20.6 0a10.3 10.3 0 1 0 -20.6 0zM697.4 797.1a10.3 10.3 0 1 0 20.6 0a10.3 10.3 0 1 0 -20.6 0zM704.5 792.1a10.3 10.3 0 1 0 20.6 0a10.3 10.3 0 1 0 -20.6 0zM711.6 787.2a10.3 10.3 0 1 0 20.6 0a10.3 10.3 0 1 0 -20.6 0zM718.7 786.3a10.3 10.3 0 1 0 20.6 0a10.3 10.3 0 1 0 -20.6 0zM725.7 786.8a10.3 10.3 0 1 0 20.6 0a10.3 10.3 0 1 0 -20.6 0zM732.8 781.7a10.3 10.3 0 1 0 20.6 0a10.3 10.3 0 1 0 -20.6 0zM739.9 781.3a10.3 10.3 0 1 0 20.6 0a10.3 10.3 0 1 0 -20.6 0zM747 784.1a10.3 10.3 0 1 0 20.6 0a10.3 10.3 0 1 0 -20.6 0zM754.1 783a10.3 10.3 0 1 0 20.6 0a10.3 10.3 0 1 0 -20.6 0zM761.2 784.4a10.3 10.3 0 1 0 20.6 0a10.3 10.3 0 1 0 -20.6 0zM768.2 784.9a10.3 10.3 0 1 0 20.6 0a10.3 10.3 0 1 0 -20.6 0zM775.3 781.2a10.3 10.3 0 1 0 20.6 0a10.3 10.3 0 1 0 -20.6 0zM782.4 781.6a10.3 10.3 0 1 0 20.6 0a10.3 10.3 0 1 0 -20.6 0zM789.5 783.5a10.3 10.3 0 1 0 20.6 0a10.3 10.3 0 1 0 -20.6 0zM796.6 783.1a10.3 10.3 0 1 0 20.6 0a10.3 10.3 0 1 0 -20.6 0zM803.7 784.7a10.3 10.3 0 1 0 20.6 0a10.3 10.3 0 1 0 -20.6 0zM810.7 781.9a10.3 10.3 0 1 0 20.6 0a10.3 10.3 0 1 0 -20.6 0zM817.8 787.2a10.3 10.3 0 1 0 20.6 0a10.3 10.3 0 1 0 -20.6 0zM824.9 782.7a10.3 10.3 0 1 0 20.6 0a10.3 10.3 0 1 0 -20.6 0zM832 785.5a10.3 10.3 0 1 0 20.6 0a10.3 10.3 0 1 0 -20.6 0zM839.1 780.3a10.3 10.3 0 1 0 20.6 0a10.3 10.3 0 1 0 -20.6 0zM846.2 783a10.3 10.3 0 1 0 20.6 0a10.3 10.3 0 1 0 -20.6 0zM853.3 778.5a10.3 10.3 0 1 0 20.6 0a10.3 10.3 0 1 0 -20.6 0zM860.3 782.2a10.3 10.3 0 1 0 20.6 0a10.3 10.3 0 1 0 -20.6 0zM867.4 779.4a10.3 10.3 0 1 0 20.6 0a10.3 10.3 0 1 0 -20.6 0zM874.5 779.8a10.3 10.3 0 1 0 20.6 0a10.3 10.3 0 1 0 -20.6 0zM881.6 778.9a10.3 10.3 0 1 0 20.6 0a10.3 10.3 0 1 0 -20.6 0zM888.7 776.6a10.3 10.3 0 1 0 20.6 0a10.3 10.3 0 1 0 -20.6 0zM895.8 779.1a10.3 10.3 0 1 0 20.6 0a10.3 10.3 0 1 0 -20.6 0zM902.8 775a10.3 10.3 0 1 0 20.6 0a10.3 10.3 0 1 0 -20.6 0zM909.9 775.7a10.3 10.3 0 1 0 20.6 0a10.3 10.3 0 1 0 -20.6 0zM917 772.8a10.3 10.3 0 1 0 20.6 0a10.3 10.3 0 1 0 -20.6 0zM924.1 775.3a10.3 10.3 0 1 0 20.6 0a10.3 10.3 0 1 0 -20.6 0zM931.2 778.5a10.3 10.3 0 1 0 20.6 0a10.3 10.3 0 1 0 -20.6 0zM938.3 778.8a10.3 10.3 0 1 0 20.6 0a10.3 10.3 0 1 0 -20.6 0zM945.3 768a10.3 10.3 0 1 0 20.6 0a10.3 10.3 0 1 0 -20.6 0zM952.4 781.9a10.3 10.3 0 1 0 20.6 0a10.3 10.3 0 1 0 -20.6 0zM959.5 781.8a10.3 10.3 0 1 0 20.6 0a10.3 10.3 0 1 0 -20.6 0zM966.6 785a10.3 10.3 0 1 0 20.6 0a10.3 10.3 0 1 0 -20.6 0zM973.7 782.9a10.3 10.3 0 1 0 20.6 0a10.3 10.3 0 1 0 -20.6 0zM980.8 778.4a10.3 10.3 0 1 0 20.6 0a10.3 10.3 0 1 0 -20.6 0zM987.8 782.6a10.3 10.3 0 1 0 20.6 0a10.3 10.3 0 1 0 -20.6 0zM994.9 784.9a10.3 10.3 0 1 0 20.6 0a10.3 10.3 0 1 0 -20.6 0zM1002 780.8a10.3 10.3 0 1 0 20.6 0a10.3 10.3 0 1 0 -20.6 0zM1009.1 783.3a10.3 10.3 0 1 0 20.6 0a10.3 10.3 0 1 0 -20.6 0zM1016.2 784.2a10.3 10.3 0 1 0 20.6 0a10.3 10.3 0 1 0 -20.6 0zM1023.3 781.5a10.3 10.3 0 1 0 20.6 0a10.3 10.3 0 1 0 -20.6 0zM1030.4 787.4a10.3 10.3 0 1 0 20.6 0a10.3 10.3 0 1 0 -20.6 0zM1037.4 791.7a10.3 10.3 0 1 0 20.6 0a10.3 10.3 0 1 0 -20.6 0zM1044.5 784.9a10.3 10.3 0 1 0 20.6 0a10.3 10.3 0 1 0 -20.6 0zM1051.6 786.8a10.3 10.3 0 1 0 20.6 0a10.3 10.3 0 1 0 -20.6 0zM1058.7 790.2a10.3 10.3 0 1 0 20.6 0a10.3 10.3 0 1 0 -20.6 0zM1065.8 791.3a10.3 10.3 0 1 0 20.6 0a10.3 10.3 0 1 0 -20.6 0zM1072.9 791.8a10.3 10.3 0 1 0 20.6 0a10.3 10.3 0 1 0 -20.6 0zM1079.9 791.1a10.3 10.3 0 1 0 20.6 0a10.3 10.3 0 1 0 -20.6 0zM1087 791.3a10.3 10.3 0 1 0 20.6 0a10.3 10.3 0 1 0 -20.6 0zM1094.1 789.7a10.3 10.3 0 1 0 20.6 0a10.3 10.3 0 1 0 -20.6 0zM1101.2 797.7a10.3 10.3 0 1 0 20.6 0a10.3 10.3 0 1 0 -20.6 0zM1108.3 797.9a10.3 10.3 0 1 0 20.6 0a10.3 10.3 0 1 0 -20.6 0zM1115.4 796.5a10.3 10.3 0 1 0 20.6 0a10.3 10.3 0 1 0 -20.6 0zM1122.4 800.4a10.3 10.3 0 1 0 20.6 0a10.3 10.3 0 1 0 -20.6 0zM1129.5 801.8a10.3 10.3 0 1 0 20.6 0a10.3 10.3 0 1 0 -20.6 0zM1136.6 802.6a10.3 10.3 0 1 0 20.6 0a10.3 10.3 0 1 0 -20.6 0zM1143.7 802.3a10.3 10.3 0 1 0 20.6 0a10.3 10.3 0 1 0 -20.6 0zM1150.8 809.9a10.3 10.3 0 1 0 20.6 0a10.3 10.3 0 1 0 -20.6 0zM1157.9 805.6a10.3 10.3 0 1 0 20.6 0a10.3 10.3 0 1 0 -20.6 0zM1164.9 808.3a10.3 10.3 0 1 0 20.6 0a10.3 10.3 0 1 0 -20.6 0zM1172 807.3a10.3 10.3 0 1 0 20.6 0a10.3 10.3 0 1 0 -20.6 0zM1179.1 809.1a10.3 10.3 0 1 0 20.6 0a10.3 10.3 0 1 0 -20.6 0zM1186.2 812.4a10.3 10.3 0 1 0 20.6 0a10.3 10.3 0 1 0 -20.6 0zM1193.3 810.4a10.3 10.3 0 1 0 20.6 0a10.3 10.3 0 1 0 -20.6 0zM1200.4 814.6a10.3 10.3 0 1 0 20.6 0a10.3 10.3 0 1 0 -20.6 0zM1207.5 812.7a10.3 10.3 0 1 0 20.6 0a10.3 10.3 0 1 0 -20.6 0zM1214.5 818.5a10.3 10.3 0 1 0 20.6 0a10.3 10.3 0 1 0 -20.6 0zM1221.6 823.2a10.3 10.3 0 1 0 20.6 0a10.3 10.3 0 1 0 -20.6 0zM1228.7 824.5a10.3 10.3 0 1 0 20.6 0a10.3 10.3 0 1 0 -20.6 0zM1235.8 823.2a10.3 10.3 0 1 0 20.6 0a10.3 10.3 0 1 0 -20.6 0zM1242.9 823.6a10.3 10.3 0 1 0 20.6 0a10.3 10.3 0 1 0 -20.6 0zM1250 825.5a10.3 10.3 0 1 0 20.6 0a10.3 10.3 0 1 0 -20.6 0zM1257 825.9a10.3 10.3 0 1 0 20.6 0a10.3 10.3 0 1 0 -20.6 0zM1264.1 829.2a10.3 10.3 0 1 0 20.6 0a10.3 10.3 0 1 0 -20.6 0zM1271.2 829.7a10.3 10.3 0 1 0 20.6 0a10.3 10.3 0 1 0 -20.6 0zM1278.3 830.2a10.3 10.3 0 1 0 20.6 0a10.3 10.3 0 1 0 -20.6 0zM1285.4 830.9a10.3 10.3 0 1 0 20.6 0a10.3 10.3 0 1 0 -20.6 0zM1292.5 833.8a10.3 10.3 0 1 0 20.6 0a10.3 10.3 0 1 0 -20.6 0zM1299.5 838.3a10.3 10.3 0 1 0 20.6 0a10.3 10.3 0 1 0 -20.6 0zM1306.6 839.5a10.3 10.3 0 1 0 20.6 0a10.3 10.3 0 1 0 -20.6 0zM1313.7 841.9a10.3 10.3 0 1 0 20.6 0a10.3 10.3 0 1 0 -20.6 0zM1320.8 844.8a10.3 10.3 0 1 0 20.6 0a10.3 10.3 0 1 0 -20.6 0zM1327.9 844.7a10.3 10.3 0 1 0 20.6 0a10.3 10.3 0 1 0 -20.6 0zM1335 842.4a10.3 10.3 0 1 0 20.6 0a10.3 10.3 0 1 0 -20.6 0zM1342 846.2a10.3 10.3 0 1 0 20.6 0a10.3 10.3 0 1 0 -20.6 0zM1349.1 845.3a10.3 10.3 0 1 0 20.6 0a10.3 10.3 0 1 0 -20.6 0zM1356.2 849.5a10.3 10.3 0 1 0 20.6 0a10.3 10.3 0 1 0 -20.6 0zM1363.3 847.1a10.3 10.3 0 1 0 20.6 0a10.3 10.3 0 1 0 -20.6 0zM1370.4 851.5a10.3 10.3 0 1 0 20.6 0a10.3 10.3 0 1 0 -20.6 0zM1377.5 853a10.3 10.3 0 1 0 20.6 0a10.3 10.3 0 1 0 -20.6 0zM1384.6 855a10.3 10.3 0 1 0 20.6 0a10.3 10.3 0 1 0 -20.6 0zM1391.6 855a10.3 10.3 0 1 0 20.6 0a10.3 10.3 0 1 0 -20.6 0zM1398.7 861.3a10.3 10.3 0 1 0 20.6 0a10.3 10.3 0 1 0 -20.6 0zM1405.8 856.3a10.3 10.3 0 1 0 20.6 0a10.3 10.3 0 1 0 -20.6 0zM1412.9 859.9a10.3 10.3 0 1 0 20.6 0a10.3 10.3 0 1 0 -20.6 0zM1420 858.4a10.3 10.3 0 1 0 20.6 0a10.3 10.3 0 1 0 -20.6 0zM1427.1 858.4a10.3 10.3 0 1 0 20.6 0a10.3 10.3 0 1 0 -20.6 0zM1434.1 860.4a10.3 10.3 0 1 0 20.6 0a10.3 10.3 0 1 0 -20.6 0zM1441.2 859.5a10.3 10.3 0 1 0 20.6 0a10.3 10.3 0 1 0 -20.6 0zM1448.3 863.7a10.3 10.3 0 1 0 20.6 0a10.3 10.3 0 1 0 -20.6 0zM1455.4 860.8a10.3 10.3 0 1 0 20.6 0a10.3 10.3 0 1 0 -20.6 0zM1462.5 866.9a10.3 10.3 0 1 0 20.6 0a10.3 10.3 0 1 0 -20.6 0zM1469.6 866.1a10.3 10.3 0 1 0 20.6 0a10.3 10.3 0 1 0 -20.6 0zM1476.6 868.5a10.3 10.3 0 1 0 20.6 0a10.3 10.3 0 1 0 -20.6 0zM1483.7 865.8a10.3 10.3 0 1 0 20.6 0a10.3 10.3 0 1 0 -20.6 0zM1490.8 872a10.3 10.3 0 1 0 20.6 0a10.3 10.3 0 1 0 -20.6 0zM1497.9 872.3a10.3 10.3 0 1 0 20.6 0a10.3 10.3 0 1 0 -20.6 0zM1505 872.8a10.3 10.3 0 1 0 20.6 0a10.3 10.3 0 1 0 -20.6 0zM1512.1 871.5a10.3 10.3 0 1 0 20.6 0a10.3 10.3 0 1 0 -20.6 0zM1519.1 874.3a10.3 10.3 0 1 0 20.6 0a10.3 10.3 0 1 0 -20.6 0zM1526.2 873.4a10.3 10.3 0 1 0 20.6 0a10.3 10.3 0 1 0 -20.6 0zM1533.3 876.9a10.3 10.3 0 1 0 20.6 0a10.3 10.3 0 1 0 -20.6 0zM1540.4 871.9a10.3 10.3 0 1 0 20.6 0a10.3 10.3 0 1 0 -20.6 0zM1547.5 876.3a10.3 10.3 0 1 0 20.6 0a10.3 10.3 0 1 0 -20.6 0zM1554.6 879.8a10.3 10.3 0 1 0 20.6 0a10.3 10.3 0 1 0 -20.6 0zM1561.7 879.7a10.3 10.3 0 1 0 20.6 0a10.3 10.3 0 1 0 -20.6 0zM1568.7 880.7a10.3 10.3 0 1 0 20.6 0a10.3 10.3 0 1 0 -20.6 0zM1575.8 881.3a10.3 10.3 0 1 0 20.6 0a10.3 10.3 0 1 0 -20.6 0zM1582.9 881a10.3 10.3 0 1 0 20.6 0a10.3 10.3 0 1 0 -20.6 0zM1590 879.7a10.3 10.3 0 1 0 20.6 0a10.3 10.3 0 1 0 -20.6 0zM1597.1 883.3a10.3 10.3 0 1 0 20.6 0a10.3 10.3 0 1 0 -20.6 0zM1604.2 882.3a10.3 10.3 0 1 0 20.6 0a10.3 10.3 0 1 0 -20.6 0zM1611.2 883.5a10.3 10.3 0 1 0 20.6 0a10.3 10.3 0 1 0 -20.6 0zM1618.3 884.6a10.3 10.3 0 1 0 20.6 0a10.3 10.3 0 1 0 -20.6 0zM1625.4 885.7a10.3 10.3 0 1 0 20.6 0a10.3 10.3 0 1 0 -20.6 0zM1632.5 884.6a10.3 10.3 0 1 0 20.6 0a10.3 10.3 0 1 0 -20.6 0zM1639.6 888.7a10.3 10.3 0 1 0 20.6 0a10.3 10.3 0 1 0 -20.6 0zM1646.7 888.5a10.3 10.3 0 1 0 20.6 0a10.3 10.3 0 1 0 -20.6 0zM1653.7 891.1a10.3 10.3 0 1 0 20.6 0a10.3 10.3 0 1 0 -20.6 0zM1660.8 893.7a10.3 10.3 0 1 0 20.6 0a10.3 10.3 0 1 0 -20.6 0zM1667.9 891.8a10.3 10.3 0 1 0 20.6 0a10.3 10.3 0 1 0 -20.6 0zM1675 891.3a10.3 10.3 0 1 0 20.6 0a10.3 10.3 0 1 0 -20.6 0zM1682.1 889.2a10.3 10.3 0 1 0 20.6 0a10.3 10.3 0 1 0 -20.6 0zM1689.2 892.4a10.3 10.3 0 1 0 20.6 0a10.3 10.3 0 1 0 -20.6 0zM1696.2 893.7a10.3 10.3 0 1 0 20.6 0a10.3 10.3 0 1 0 -20.6 0zM1703.3 894.6a10.3 10.3 0 1 0 20.6 0a10.3 10.3 0 1 0 -20.6 0zM1710.4 894.9a10.3 10.3 0 1 0 20.6 0a10.3 10.3 0 1 0 -20.6 0zM1717.5 894.6a10.3 10.3 0 1 0 20.6 0a10.3 10.3 0 1 0 -20.6 0zM1724.6 898.3a10.3 10.3 0 1 0 20.6 0a10.3 10.3 0 1 0 -20.6 0zM1731.7 897.7a10.3 10.3 0 1 0 20.6 0a10.3 10.3 0 1 0 -20.6 0zM1738.8 900.4a10.3 10.3 0 1 0 20.6 0a10.3 10.3 0 1 0 -20.6 0zM1745.8 897.9a10.3 10.3 0 1 0 20.6 0a10.3 10.3 0 1 0 -20.6 0zM1752.9 902.9a10.3 10.3 0 1 0 20.6 0a10.3 10.3 0 1 0 -20.6 0zM1760 904.2a10.3 10.3 0 1 0 20.6 0a10.3 10.3 0 1 0 -20.6 0zM1767.1 901a10.3 10.3 0 1 0 20.6 0a10.3 10.3 0 1 0 -20.6 0zM1774.2 904.1a10.3 10.3 0 1 0 20.6 0a10.3 10.3 0 1 0 -20.6 0zM1781.3 904.4a10.3 10.3 0 1 0 20.6 0a10.3 10.3 0 1 0 -20.6 0zM1788.3 908.2a10.3 10.3 0 1 0 20.6 0a10.3 10.3 0 1 0 -20.6 0zM1795.4 907.3a10.3 10.3 0 1 0 20.6 0a10.3 10.3 0 1 0 -20.6 0zM1802.5 905.7a10.3 10.3 0 1 0 20.6 0a10.3 10.3 0 1 0 -20.6 0zM1809.6 907.5a10.3 10.3 0 1 0 20.6 0a10.3 10.3 0 1 0 -20.6 0zM1816.7 907.1a10.3 10.3 0 1 0 20.6 0a10.3 10.3 0 1 0 -20.6 0zM1823.8 908.7a10.3 10.3 0 1 0 20.6 0a10.3 10.3 0 1 0 -20.6 0zM1830.8 908.2a10.3 10.3 0 1 0 20.6 0a10.3 10.3 0 1 0 -20.6 0zM1837.9 909.9a10.3 10.3 0 1 0 20.6 0a10.3 10.3 0 1 0 -20.6 0zM1845 912.3a10.3 10.3 0 1 0 20.6 0a10.3 10.3 0 1 0 -20.6 0zM1852.1 914.9a10.3 10.3 0 1 0 20.6 0a10.3 10.3 0 1 0 -20.6 0zM1859.2 912.3a10.3 10.3 0 1 0 20.6 0a10.3 10.3 0 1 0 -20.6 0zM1866.3 914.8a10.3 10.3 0 1 0 20.6 0a10.3 10.3 0 1 0 -20.6 0zM1873.3 907.5a10.3 10.3 0 1 0 20.6 0a10.3 10.3 0 1 0 -20.6 0zM1880.4 913.1a10.3 10.3 0 1 0 20.6 0a10.3 10.3 0 1 0 -20.6 0zM1887.5 913.6a10.3 10.3 0 1 0 20.6 0a10.3 10.3 0 1 0 -20.6 0zM1894.6 913.4a10.3 10.3 0 1 0 20.6 0a10.3 10.3 0 1 0 -20.6 0zM1901.7 912.6a10.3 10.3 0 1 0 20.6 0a10.3 10.3 0 1 0 -20.6 0zM1908.8 908.6a10.3 10.3 0 1 0 20.6 0a10.3 10.3 0 1 0 -20.6 0zM1915.9 911.4a10.3 10.3 0 1 0 20.6 0a10.3 10.3 0 1 0 -20.6 0zM1922.9 913.4a10.3 10.3 0 1 0 20.6 0a10.3 10.3 0 1 0 -20.6 0zM1930 914.9a10.3 10.3 0 1 0 20.6 0a10.3 10.3 0 1 0 -20.6 0zM1937.1 912.7a10.3 10.3 0 1 0 20.6 0a10.3 10.3 0 1 0 -20.6 0zM1944.2 914.8a10.3 10.3 0 1 0 20.6 0a10.3 10.3 0 1 0 -20.6 0zM1951.3 917.3a10.3 10.3 0 1 0 20.6 0a10.3 10.3 0 1 0 -20.6 0zM1958.4 917.8a10.3 10.3 0 1 0 20.6 0a10.3 10.3 0 1 0 -20.6 0zM1965.4 915.9a10.3 10.3 0 1 0 20.6 0a10.3 10.3 0 1 0 -20.6 0zM1972.5 918.7a10.3 10.3 0 1 0 20.6 0a10.3 10.3 0 1 0 -20.6 0zM1979.6 916.5a10.3 10.3 0 1 0 20.6 0a10.3 10.3 0 1 0 -20.6 0zM1986.7 917.6a10.3 10.3 0 1 0 20.6 0a10.3 10.3 0 1 0 -20.6 0zM1993.8 919.9a10.3 10.3 0 1 0 20.6 0a10.3 10.3 0 1 0 -20.6 0zM2000.9 919.2a10.3 10.3 0 1 0 20.6 0a10.3 10.3 0 1 0 -20.6 0zM2007.9 919.4a10.3 10.3 0 1 0 20.6 0a10.3 10.3 0 1 0 -20.6 0zM2015 918.3a10.3 10.3 0 1 0 20.6 0a10.3 10.3 0 1 0 -20.6 0zM2022.1 920.3a10.3 10.3 0 1 0 20.6 0a10.3 10.3 0 1 0 -20.6 0zM2029.2 921.9a10.3 10.3 0 1 0 20.6 0a10.3 10.3 0 1 0 -20.6 0zM2036.3 919.7a10.3 10.3 0 1 0 20.6 0a10.3 10.3 0 1 0 -20.6 0zM2043.4 921a10.3 10.3 0 1 0 20.6 0a10.3 10.3 0 1 0 -20.6 0zM2050.4 920.7a10.3 10.3 0 1 0 20.6 0a10.3 10.3 0 1 0 -20.6 0zM2057.5 921.3a10.3 10.3 0 1 0 20.6 0a10.3 10.3 0 1 0 -20.6 0zM2064.6 922.9a10.3 10.3 0 1 0 20.6 0a10.3 10.3 0 1 0 -20.6 0zM2071.7 921.2a10.3 10.3 0 1 0 20.6 0a10.3 10.3 0 1 0 -20.6 0zM2078.8 923.6a10.3 10.3 0 1 0 20.6 0a10.3 10.3 0 1 0 -20.6 0zM2085.9 920a10.3 10.3 0 1 0 20.6 0a10.3 10.3 0 1 0 -20.6 0zM2093 919.9a10.3 10.3 0 1 0 20.6 0a10.3 10.3 0 1 0 -20.6 0zM2100 927.6a10.3 10.3 0 1 0 20.6 0a10.3 10.3 0 1 0 -20.6 0zM2107.1 926.1a10.3 10.3 0 1 0 20.6 0a10.3 10.3 0 1 0 -20.6 0zM2114.2 925.9a10.3 10.3 0 1 0 20.6 0a10.3 10.3 0 1 0 -20.6 0zM2121.3 925.6a10.3 10.3 0 1 0 20.6 0a10.3 10.3 0 1 0 -20.6 0zM2128.4 929.7a10.3 10.3 0 1 0 20.6 0a10.3 10.3 0 1 0 -20.6 0zM2135.5 926.9a10.3 10.3 0 1 0 20.6 0a10.3 10.3 0 1 0 -20.6 0zM2142.5 928.2a10.3 10.3 0 1 0 20.6 0a10.3 10.3 0 1 0 -20.6 0z" fill="#f00"/>
<polyline points="318.1,1169.2 321.6,1168.5 325.2,1170.1 328.7,1166.7 332.3,1168.2 335.8,1169.3 339.3,1168.2 342.9,1167.8 346.4,1168.3 350,1167.3 353.5,1168.6 357,1170.7 360.6,1169.5 364.1,1167.5 367.7,1167.7 371.2,1168.1 374.8,1169.4 378.3,1167.8 381.8,1167.9 385.4,1169.3 388.9,1169.3 392.5,1168.2 396,1167.5 399.6,1167.1 403.1,1167.9 406.6,1166.5 410.2,1169.2 413.7,1167.9 417.3,1168.9 420.8,1170.2 424.3,1169.6 427.9,1167.5 431.4,1169.3 435,1169.5 438.5,1167.8 442.1,1167.6 445.6,1168.4 449.1,1167.1 452.7,1169.8 456.2,1166.3 459.8,1167.5 463.3,1168.3 466.8,1168.3 470.4,1168.6 473.9,1168.7 477.5,1168.3 481,1169.5 484.6,1166.6 488.1,1168.5 491.6,1167.9 495.2,1168.6 498.7,1168.7 502.3,1167.7 505.8,1167.9 509.4,1169.2 512.9,1168.8 516.4,1167.9 520,1170.3 523.5,1170.6 527.1,1167.2 530.6,1168.8 534.1,1170.8 537.7,1169.2 541.2,1168.7 544.8,1168.3 548.3,1168 551.9,1168.3 555.4,1168 558.9,1169.2 562.5,1168.1 566,1168.1 569.6,1167.4 573.1,1168.5 576.6,1167.7 580.2,1168.3 583.7,1169.4 587.3,1168.8 590.8,1169 594.4,1168.8 597.9,1168.6 601.4,1168.4 605,1168.2 608.5,1169.2 612.1,1167.5 615.6,1169.7 619.2,1168.5 622.7,1167.8 626.2,1168.1 629.8,1167.9 633.3,1166.4 636.9,1158.5 640.4,1139 643.9,1119.7 647.5,1077.3 651,1026.4 654.6,973.1 658.1,935 661.7,918 665.2,904.6 668.7,890.6 672.3,881.7 675.8,877.1 679.4,870.9 682.9,867.7 686.5,866.5 690,866.2 693.5,864 697.1,862 700.6,861.4 704.2,860.8 707.7,858.8 711.2,857.5 714.8,857.6 718.3,855.8 721.9,855.7 725.4,854.8 729,856 732.5,852.5 736,852.8 739.6,852.6 743.1,853 746.7,853.5 750.2,852 753.8,851.6 757.3,850.8 760.8,851.4 764.4,852.6 767.9,852.1 771.5,851 775,851.5 778.5,851.7 782.1,852 785.6,850.9 789.2,851.1 792.7,849.6 796.3,850 799.8,852.4 803.3,848.8 806.9,850.4 810.4,850.7 814,850.1 817.5,849.6 821,850.2 824.6,850.1 828.1,850 831.7,848.3 835.2,849.8 838.8,849.1 842.3,849.3 845.8,849.9 849.4,850.2 852.9,850.4 856.5,849.1 860,850.3 863.6,850.4 867.1,850.4 870.6,850.5 874.2,849.1 877.7,849 881.3,849.9 884.8,847.9 888.3,849.3 891.9,848.6 895.4,848.7 899,847.4 902.5,848.2 906.1,849 909.6,849.8 913.1,849.9 916.7,848.9 920.2,848.8 923.8,848.3 927.3,849.4 930.9,848.8 934.4,849.6 937.9,850.7 941.5,849.1 945,847.8 948.6,848.4 952.1,847.9 955.6,848.1 959.2,850.4 962.7,849.5 966.3,847.9 969.8,849.9 973.4,850.5 976.9,849.1 980.4,848.9 984,849.2 987.5,849.9 991.1,850.2 994.6,850.8 998.1,850.9 1001.7,850.9 1005.2,851.2 1008.8,850.6 1012.3,848.7 1015.9,850.1 1019.4,850.5 1022.9,850 1026.5,851.3 1030,850.2 1033.6,849.8 1037.1,852 1040.7,851.5 1044.2,851.2 1047.7,852 1051.3,852.6 1054.8,852.5 1058.4,850.6 1061.9,852.6 1065.4,853.1 1069,853 1072.5,854.4 1076.1,855.6 1079.6,854.5 1083.2,854.4 1086.7,857.8 1090.2,856.2 1093.8,856.2 1097.3,858.2 1100.9,859.2 1104.4,859 1107.9,861.2 1111.5,861 1115,861.5 1118.6,863.6 1122.1,865.2 1125.7,865 1129.2,867.1 1132.7,868 1136.3,871.9 1139.8,870 1143.4,873.3 1146.9,873.4 1150.5,874.8 1154,877.1 1157.5,878.9 1161.1,881 1164.6,882.1 1168.2,883.2 1171.7,885.4 1175.2,888.5 1178.8,890.7 1182.3,893.6 1185.9,894.9 1189.4,897.6 1193,900.1 1196.5,900.8 1200,901.2 1203.6,903.3 1207.1,904.8 1210.7,909.3 1214.2,908.8 1217.8,912.4 1221.3,913.4 1224.8,916.1 1228.4,917.1 1231.9,917.8 1235.5,919.3 1239,921.3 1242.5,923 1246.1,924.1 1249.6,926.2 1253.2,929.3 1256.7,928 1260.3,931.4 1263.8,931.9 1267.3,934.6 1270.9,936.8 1274.4,937.6 1278,940.1 1281.5,939.7 1285,943.9 1288.6,944.2 1292.1,947.1 1295.7,948.7 1299.2,948.3 1302.8,952.2 1306.3,955.3 1309.8,958.9 1313.4,960.1 1316.9,962.4 1320.5,963.2 1324,968.1 1327.6,970.7 1331.1,971.2 1334.6,973 1338.2,973.6 1341.7,977.6 1345.3,981 1348.8,980.8 1352.3,982.8 1355.9,983.7 1359.4,983.8 1363,987.3 1366.5,986.4 1370.1,988.8 1373.6,990.6 1377.1,992.6 1380.7,993.6 1384.2,995 1387.8,995.5 1391.3,996.5 1394.9,999.3 1398.4,1000.1 1401.9,1001.1 1405.5,1002.7 1409,1004.9 1412.6,1005.2 1416.1,1007.1 1419.6,1008.3 1423.2,1011.3 1426.7,1012.8 1430.3,1015.6 1433.8,1013.6 1437.4,1015.5 1440.9,1018.1 1444.4,1018.3 1448,1019.3 1451.5,1022.2 1455.1,1021.4 1458.6,1021.7 1462.1,1022.6 1465.7,1025.1 1469.2,1026 1472.8,1025.4 1476.3,1026.7 1479.9,1028.9 1483.4,1029.9 1486.9,1029.6 1490.5,1031.6 1494,1032.3 1497.6,1031 1501.1,1043.6 1504.7,1034.5 1508.2,1034.4 1511.7,1033.7 1515.3,1036.1 1518.8,1037.7 1522.4,1039.1 1525.9,1036.4 1529.4,1041.3 1533,1038.6 1536.5,1041.1 1540.1,1041.9 1543.6,1042.3 1547.2,1042.1 1550.7,1041.5 1554.2,1043.7 1557.8,1043 1561.3,1041.9 1564.9,1047.3 1568.4,1045.9 1572,1047.5 1575.5,1045.6 1579,1048.2 1582.6,1048.9 1586.1,1049.4 1589.7,1048.5 1593.2,1047.9 1596.7,1049.4 1600.3,1048.1 1603.8,1049 1607.4,1051.2 1610.9,1050.7 1614.5,1052 1618,1052.6 1621.5,1055 1625.1,1055 1628.6,1054.3 1632.2,1056 1635.7,1054.7 1639.2,1055.6 1642.8,1057.3 1646.3,1055.8 1649.9,1057.2 1653.4,1056.7 1657,1058.5 1660.5,1060.3 1664,1058.6 1667.6,1059.9 1671.1,1059.3 1674.7,1059.5 1678.2,1059.8 1681.8,1062.6 1685.3,1063.8 1688.8,1062.5 1692.4,1061.8 1695.9,1063.4 1699.5,1062.9 1703,1064.2 1706.5,1064.1 1710.1,1064.5 1713.6,1065.1 1717.2,1064.4 1720.7,1064.9 1724.3,1064 1727.8,1065.5 1731.3,1064.9 1734.9,1066.4 1738.4,1066 1742,1067.2 1745.5,1067.9 1749.1,1066.5 1752.6,1067.3 1756.1,1067.5 1759.7,1069.3 1763.2,1070.5 1766.8,1070 1770.3,1069.2 1773.8,1071.1 1777.4,1068.7 1780.9,1071.7 1784.5,1070 1788,1068.3 1791.6,1073.5 1795.1,1072.8 1798.6,1070.7 1802.2,1072 1805.7,1072 1809.3,1072.5 1812.8,1071.3 1816.3,1072.3 1819.9,1073.5 1823.4,1073.6 1827,1074.7 1830.5,1073.9 1834.1,1076.2 1837.6,1073.7 1841.1,1074.8 1844.7,1073 1848.2,1073.8 1851.8,1076.4 1855.3,1074.6 1858.9,1076.1 1862.4,1075.8 1865.9,1075.1 1869.5,1076 1873,1076 1876.6,1076.3 1880.1,1077.6 1883.6,1077.7 1887.2,1076.8 1890.7,1076.7 1894.3,1078 1897.8,1077.9 1901.4,1079.1 1904.9,1080.7 1908.4,1079.3 1912,1078.7 1915.5,1078.8 1919.1,1078.4 1922.6,1078.6 1926.2,1078.7 1929.7,1079.4 1933.2,1079.6 1936.8,1080.9 1940.3,1080.1 1943.9,1080.4 1947.4,1079.7 1950.9,1082.5 1954.5,1081.7 1958,1083.1 1961.6,1082.4 1965.1,1083.2 1968.7,1081.9 1972.2,1083 1975.7,1085 1979.3,1081.6 1982.8,1084 1986.4,1084.7 1989.9,1083.8 1993.4,1084.3 1997,1085 2000.5,1083.4 2004.1,1084.6 2007.6,1083.7 2011.2,1084.1 2014.7,1084.3 2018.2,1085 2021.8,1085.4 2025.3,1085.9 2028.9,1084.4 2032.4,1087.8 2036,1087.2 2039.5,1087 2043,1086.3 2046.6,1086.7 2050.1,1087.5 2053.7,1087.6 2057.2,1085.9 2060.7,1088.3 2064.3,1090.5 2067.8,1086.4 2071.4,1089.2 2074.9,1088.8 2078.5,1088.6 2082,1090.2 2085.5,1088 2089.1,1089.5 2092.6,1090.9 2096.2,1089.6 2099.7,1089.6 2103.3,1090.3 2106.8,1090 2110.3,1092 2113.9,1090 2117.4,1091.8 2121,1090.1 2124.5,1092 2128,1091.5 2131.6,1089.4 2135.1,1092 2138.7,1091.3 2142.2,1092.1 2145.8,1094.1 2149.3,1091.8 2152.8,1092.1 2156.4,1094.6" fill="none" stroke="#0f0" stroke-width="11" stroke-linejoin="round" stroke-linecap="round"/>
<path d="M318.1 1158.4L330.6 1180.1H305.6zM325.2 1159.2L337.7 1180.9H312.7zM332.3 1157.4L344.8 1179.1H319.8zM339.3 1157.4L351.8 1179H326.8zM346.4 1157.4L358.9 1179.1H333.9zM353.5 1157.8L366 1179.4H341zM360.6 1158.7L373.1 1180.4H348.1zM367.7 1156.9L380.2 1178.5H355.2zM374.8 1158.6L387.3 1180.2H362.3zM381.8 1157.1L394.3 1178.7H369.3zM388.9 1158.5L401.4 1180.1H376.4zM396 1156.7L408.5 1178.3H383.5zM403.1 1157L415.6 1178.7H390.6zM410.2 1158.3L422.7 1180H397.7zM417.3 1158.1L429.8 1179.8H404.8zM424.3 1158.7L436.8 1180.4H411.8zM431.4 1158.5L443.9 1180.1H418.9zM438.5 1157L451 1178.7H426zM445.6 1157.6L458.1 1179.2H433.1zM452.7 1159L465.2 1180.6H440.2zM459.8 1156.7L472.3 1178.3H447.3zM466.8 1157.5L479.3 1179.1H454.3zM473.9 1157.9L486.4 1179.6H461.4zM481 1158.7L493.5 1180.3H468.5zM488.1 1157.7L500.6 1179.3H475.6zM495.2 1157.8L507.7 1179.4H482.7zM502.3 1156.9L514.8 1178.5H489.8zM509.4 1158.4L521.9 1180H496.9zM516.4 1157.1L528.9 1178.7H503.9zM523.5 1159.8L536 1181.4H511zM530.6 1157.9L543.1 1179.6H518.1zM537.7 1158.4L550.2 1180H525.2zM544.8 1157.5L557.3 1179.1H532.3zM551.9 1157.5L564.4 1179.1H539.4zM558.9 1158.3L571.4 1180H546.4zM566 1157.3L578.5 1178.9H553.5zM573.1 1157.6L585.6 1179.3H560.6zM580.2 1157.5L592.7 1179.2H567.7zM587.3 1158L599.8 1179.7H574.8zM594.4 1158L606.9 1179.6H581.9zM601.4 1157.6L613.9 1179.2H588.9zM608.5 1158.4L621 1180H596zM615.6 1158.9L628.1 1180.5H603.1zM622.7 1157L635.2 1178.7H610.2zM629.8 1157.1L642.3 1178.7H617.3zM636.9 1147.7L649.4 1169.3H624.4zM643.9 1108.8L656.4 1130.5H631.4zM651 1015.6L663.5 1037.2H638.5zM658.1 924.2L670.6 945.8H645.6zM665.2 893.7L677.7 915.4H652.7zM672.3 870.9L684.8 892.5H659.8zM679.4 860.1L691.9 881.7H666.9zM686.5 855.7L699 877.3H674zM693.5 853.2L706 874.8H681zM700.6 850.5L713.1 872.2H688.1zM707.7 847.9L720.2 869.6H695.2zM714.8 846.8L727.3 868.4H702.3zM721.9 844.8L734.4 866.5H709.4zM729 845.2L741.5 866.8H716.5zM736 842L748.5 863.7H723.5zM743.1 842.2L755.6 863.9H730.6zM750.2 841.2L762.7 862.8H737.7zM757.3 840L769.8 861.6H744.8zM764.4 841.8L776.9 863.5H751.9zM771.5 840.2L784 861.9H759zM778.5 840.9L791 862.6H766zM785.6 840.1L798.1 861.8H773.1zM792.7 838.7L805.2 860.4H780.2zM799.8 841.6L812.3 863.2H787.3zM806.9 839.5L819.4 861.2H794.4zM814 839.3L826.5 860.9H801.5zM821 839.3L833.5 861H808.5zM828.1 839.1L840.6 860.8H815.6zM835.2 838.9L847.7 860.6H822.7zM842.3 838.4L854.8 860.1H829.8zM849.4 839.4L861.9 861H836.9zM856.5 838.2L869 859.9H844zM863.6 839.6L876.1 861.3H851.1zM870.6 839.7L883.1 861.4H858.1zM877.7 838.2L890.2 859.9H865.2zM884.8 837.1L897.3 858.7H872.3zM891.9 837.7L904.4 859.4H879.4zM899 836.6L911.5 858.3H886.5zM906.1 838.2L918.6 859.8H893.6zM913.1 839.1L925.6 860.7H900.6zM920.2 838L932.7 859.7H907.7zM927.3 838.6L939.8 860.2H914.8zM934.4 838.8L946.9 860.4H921.9zM941.5 838.2L954 859.9H929zM948.6 837.5L961.1 859.2H936.1zM955.6 837.3L968.1 859H943.1zM962.7 838.7L975.2 860.3H950.2zM969.8 839.1L982.3 860.8H957.3zM976.9 838.3L989.4 859.9H964.4zM984 838.4L996.5 860.1H971.5zM991.1 839.4L1003.6 861.1H978.6zM998.1 840.1L1010.6 861.7H985.6zM1005.2 840.3L1017.7 862H992.7zM1012.3 837.9L1024.8 859.5H999.8zM1019.4 839.7L1031.9 861.4H1006.9zM1026.5 840.4L1039 862.1H1014zM1033.6 839L1046.1 860.6H1021.1zM1040.7 840.6L1053.2 862.3H1028.2zM1047.7 841.2L1060.2 862.8H1035.2zM1054.8 841.7L1067.3 863.4H1042.3zM1061.9 841.8L1074.4 863.4H1049.4zM1069 842.2L1081.5 863.8H1056.5zM1076.1 844.8L1088.6 866.4H1063.6zM1083.2 843.6L1095.7 865.2H1070.7zM1090.2 845.4L1102.7 867H1077.7zM1097.3 847.4L1109.8 869.1H1084.8zM1104.4 848.2L1116.9 869.8H1091.9zM1111.5 850.1L1124 871.8H1099zM1118.6 852.7L1131.1 874.4H1106.1zM1125.7 854.2L1138.2 875.9H1113.2zM1132.7 857.1L1145.2 878.8H1120.2zM1139.8 859.2L1152.3 880.9H1127.3zM1146.9 862.6L1159.4 884.2H1134.4zM1154 866.3L1166.5 887.9H1141.5zM1161.1 870.2L1173.6 891.8H1148.6zM1168.2 872.4L1180.7 894.1H1155.7zM1175.2 877.6L1187.7 899.3H1162.7zM1182.3 882.8L1194.8 904.4H1169.8zM1189.4 886.8L1201.9 908.4H1176.9zM1196.5 890L1209 911.6H1184zM1203.6 892.5L1216.1 914.1H1191.1zM1210.7 898.5L1223.2 920.1H1198.2zM1217.8 901.5L1230.3 923.2H1205.3zM1224.8 905.3L1237.3 926.9H1212.3zM1231.9 907L1244.4 928.6H1219.4zM1239 910.4L1251.5 932.1H1226.5zM1246.1 913.2L1258.6 934.9H1233.6zM1253.2 918.5L1265.7 940.1H1240.7zM1260.3 920.5L1272.8 942.2H1247.8zM1267.3 923.7L1279.8 945.4H1254.8zM1274.4 926.8L1286.9 948.5H1261.9zM1281.5 928.8L1294 950.5H1269zM1288.6 933.3L1301.1 955H1276.1zM1295.7 937.9L1308.2 959.5H1283.2zM1302.8 941.4L1315.3 963H1290.3zM1309.8 948L1322.3 969.7H1297.3zM1316.9 951.6L1329.4 973.2H1304.4zM1324 957.3L1336.5 978.9H1311.5zM1331.1 960.4L1343.6 982H1318.6zM1338.2 962.8L1350.7 984.5H1325.7zM1345.3 970.1L1357.8 991.8H1332.8zM1352.3 972L1364.8 993.7H1339.8zM1359.4 973L1371.9 994.6H1346.9zM1366.5 975.6L1379 997.3H1354zM1373.6 979.8L1386.1 1001.4H1361.1zM1380.7 982.8L1393.2 1004.4H1368.2zM1387.8 984.7L1400.3 1006.3H1375.3zM1394.9 988.4L1407.4 1010.1H1382.4zM1401.9 990.3L1414.4 1011.9H1389.4zM1409 994.1L1421.5 1015.7H1396.5zM1416.1 996.3L1428.6 1017.9H1403.6zM1423.2 1000.5L1435.7 1022.1H1410.7zM1430.3 1004.7L1442.8 1026.4H1417.8zM1437.4 1004.7L1449.9 1026.4H1424.9zM1444.4 1007.4L1456.9 1029.1H1431.9zM1451.5 1011.4L1464 1033H1439zM1458.6 1010.9L1471.1 1032.5H1446.1zM1465.7 1014.2L1478.2 1035.9H1453.2zM1472.8 1014.6L1485.3 1036.3H1460.3zM1479.9 1018.1L1492.4 1039.8H1467.4zM1486.9 1018.8L1499.4 1040.4H1474.4zM1494 1021.5L1506.5 1043.2H1481.5zM1501.1 1032.8L1513.6 1054.4H1488.6zM1508.2 1023.5L1520.7 1045.2H1495.7zM1515.3 1025.2L1527.8 1046.9H1502.8zM1522.4 1028.3L1534.9 1049.9H1509.9zM1529.4 1030.5L1541.9 1052.2H1516.9zM1536.5 1030.3L1549 1051.9H1524zM1543.6 1031.5L1556.1 1053.1H1531.1zM1550.7 1030.7L1563.2 1052.3H1538.2zM1557.8 1032.2L1570.3 1053.8H1545.3zM1564.9 1036.5L1577.4 1058.1H1552.4zM1572 1036.7L1584.5 1058.3H1559.5zM1579 1037.4L1591.5 1059.1H1566.5zM1586.1 1038.5L1598.6 1060.2H1573.6zM1593.2 1037.1L1605.7 1058.7H1580.7zM1600.3 1037.2L1612.8 1058.9H1587.8zM1607.4 1040.4L1619.9 1062H1594.9zM1614.5 1041.2L1627 1062.8H1602zM1621.5 1044.2L1634 1065.8H1609zM1628.6 1043.5L1641.1 1065.1H1616.1zM1635.7 1043.9L1648.2 1065.5H1623.2zM1642.8 1046.4L1655.3 1068.1H1630.3zM1649.9 1046.4L1662.4 1068H1637.4zM1657 1047.7L1669.5 1069.3H1644.5zM1664 1047.8L1676.5 1069.4H1651.5zM1671.1 1048.5L1683.6 1070.1H1658.6zM1678.2 1049L1690.7 1070.6H1665.7zM1685.3 1053L1697.8 1074.6H1672.8zM1692.4 1051L1704.9 1072.6H1679.9zM1699.5 1052L1712 1073.7H1687zM1706.5 1053.3L1719 1075H1694zM1713.6 1054.3L1726.1 1075.9H1701.1zM1720.7 1054L1733.2 1075.7H1708.2zM1727.8 1054.7L1740.3 1076.3H1715.3zM1734.9 1055.6L1747.4 1077.2H1722.4zM1742 1056.4L1754.5 1078.1H1729.5zM1749.1 1055.6L1761.6 1077.3H1736.6zM1756.1 1056.7L1768.6 1078.3H1743.6zM1763.2 1059.6L1775.7 1081.3H1750.7zM1770.3 1058.3L1782.8 1080H1757.8zM1777.4 1057.9L1789.9 1079.5H1764.9zM1784.5 1059.2L1797 1080.8H1772zM1791.6 1062.7L1804.1 1084.3H1779.1zM1798.6 1059.9L1811.1 1081.5H1786.1zM1805.7 1061.1L1818.2 1082.8H1793.2zM1812.8 1060.5L1825.3 1082.1H1800.3zM1819.9 1062.7L1832.4 1084.4H1807.4zM1827 1063.9L1839.5 1085.5H1814.5zM1834.1 1065.4L1846.6 1087H1821.6zM1841.1 1063.9L1853.6 1085.6H1828.6zM1848.2 1063L1860.7 1084.7H1835.7zM1855.3 1063.7L1867.8 1085.4H1842.8zM1862.4 1065L1874.9 1086.6H1849.9zM1869.5 1065.1L1882 1086.8H1857zM1876.6 1065.4L1889.1 1087.1H1864.1zM1883.6 1066.9L1896.1 1088.5H1871.1zM1890.7 1065.9L1903.2 1087.5H1878.2zM1897.8 1067L1910.3 1088.7H1885.3zM1904.9 1069.9L1917.4 1091.6H1892.4zM1912 1067.9L1924.5 1089.6H1899.5zM1919.1 1067.6L1931.6 1089.2H1906.6zM1926.2 1067.9L1938.7 1089.5H1913.7zM1933.2 1068.8L1945.7 1090.4H1920.7zM1940.3 1069.2L1952.8 1090.9H1927.8zM1947.4 1068.9L1959.9 1090.6H1934.9zM1954.5 1070.9L1967 1092.5H1942zM1961.6 1071.6L1974.1 1093.2H1949.1zM1968.7 1071.1L1981.2 1092.7H1956.2zM1975.7 1074.1L1988.2 1095.8H1963.2zM1982.8 1073.2L1995.3 1094.8H1970.3zM1989.9 1072.9L2002.4 1094.6H1977.4zM1997 1074.1L2009.5 1095.8H1984.5zM2004.1 1073.8L2016.6 1095.4H1991.6zM2011.2 1073.2L2023.7 1094.9H1998.7zM2018.2 1074.1L2030.7 1095.8H2005.7zM2025.3 1075.1L2037.8 1096.8H2012.8zM2032.4 1077L2044.9 1098.6H2019.9zM2039.5 1076.2L2052 1097.9H2027zM2046.6 1075.9L2059.1 1097.5H2034.1zM2053.7 1076.8L2066.2 1098.4H2041.2zM2060.7 1077.5L2073.2 1099.2H2048.2zM2067.8 1075.5L2080.3 1097.2H2055.3zM2074.9 1078L2087.4 1099.7H2062.4zM2082 1079.4L2094.5 1101H2069.5zM2089.1 1078.7L2101.6 1100.3H2076.6zM2096.2 1078.7L2108.7 1100.4H2083.7zM2103.3 1079.5L2115.8 1101.1H2090.8zM2110.3 1081.2L2122.8 1102.8H2097.8zM2117.4 1081L2129.9 1102.6H2104.9zM2124.5 1081.2L2137 1102.9H2112zM2131.6 1078.6L2144.1 1100.3H2119.1zM2138.7 1080.4L2151.2 1102.1H2126.2zM2145.8 1083.3L2158.3 1104.9H2133.3zM2152.8 1081.3L2165.3 1102.9H2140.3z" fill="#0f0"/>
<polyline points="318.1,1261.5 321.6,1262.4 325.2,1261.6 328.7,1260.9 332.3,1261.4 335.8,1262.2 339.3,1262 342.9,1261.4 346.4,1261.4 350,1261.3 353.5,1261 357,1262.6 360.6,1261.4 364.1,1260.7 367.7,1261.1 371.2,1261.8 374.8,1261.8 378.3,1261.3 381.8,1261 385.4,1261.4 388.9,1260.4 392.5,1260.6 396,1261.9 399.6,1261.1 403.1,1261.6 406.6,1262.2 410.2,1261.8 413.7,1261.4 417.3,1262.7 420.8,1261.8 424.3,1261.2 427.9,1261.9 431.4,1261.7 435,1260.9 438.5,1261.4 442.1,1261.3 445.6,1260.2 449.1,1261.3 452.7,1261.2 456.2,1261.1 459.8,1260.4 463.3,1261.2 466.8,1261.4 470.4,1261.5 473.9,1260.7 477.5,1261.8 481,1260.7 484.6,1261.3 488.1,1262.2 491.6,1261 495.2,1261.1 498.7,1262.1 502.3,1261.2 505.8,1261.2 509.4,1261.5 512.9,1262 516.4,1260 520,1260.9 523.5,1260.8 527.1,1260.7 530.6,1260.9 534.1,1260.9 537.7,1261.6 541.2,1260.9 544.8,1261.5 548.3,1261.6 551.9,1261 555.4,1261.5 558.9,1262.4 562.5,1261.6 566,1261 569.6,1261.4 573.1,1260.8 576.6,1261.6 580.2,1261.9 583.7,1260.9 587.3,1261.3 590.8,1262.1 594.4,1261.1 597.9,1261.5 601.4,1260.8 605,1260.9 608.5,1261.1 612.1,1262.7 615.6,1261.2 619.2,1261.1 622.7,1261.1 626.2,1261.3 629.8,1261.8 633.3,1261.5 636.9,1262.6 640.4,1260.3 643.9,1258.9 647.5,1254.8 651,1249.3 654.6,1235.8 658.1,1220.6 661.7,1204.7 665.2,1187.9 668.7,1169.3 672.3,1154.3 675.8,1138 679.4,1124.5 682.9,1114 686.5,1103.9 690,1092.8 693.5,1082.9 697.1,1076.5 700.6,1071.9 704.2,1067.5 707.7,1062.9 711.2,1058.1 714.8,1053.5 718.3,1049.8 721.9,1046.7 725.4,1041.8 729,1040.2 732.5,1036.8 736,1033.2 739.6,1031.7 743.1,1028.5 746.7,1026.7 750.2,1025.5 753.8,1024.7 757.3,1023.5 760.8,1022.2 764.4,1021.5 767.9,1019.2 771.5,1019.9 775,1017.9 778.5,1017.5 782.1,1017 785.6,1015.9 789.2,1015.1 792.7,1014.8 796.3,1014.9 799.8,1014.7 803.3,1014.2 806.9,1012.8 810.4,1012.5 814,1011.9 817.5,1012.3 821,1010.4 824.6,1011.9 828.1,1010.5 831.7,1009.9 835.2,1010.1 838.8,1010.1 842.3,1009.3 845.8,1009.3 849.4,1008.4 852.9,1008.6 856.5,1008.2 860,1006.9 863.6,1007.4 867.1,1006.1 870.6,1005.5 874.2,1004.2 877.7,1004 881.3,1004 884.8,1002.2 888.3,1002.8 891.9,1002.2 895.4,1001.7 899,999.9 902.5,1001 906.1,1001.4 909.6,1000.5 913.1,1001.1 916.7,999.6 920.2,1001.4 923.8,1000.6 927.3,1001.5 930.9,999.9 934.4,1001.5 937.9,1000.9 941.5,1001.6 945,1000.5 948.6,1000.7 952.1,1002.5 955.6,1000.6 959.2,1000.7 962.7,1001 966.3,1000.6 969.8,1001.9 973.4,1002.3 976.9,1000.9 980.4,1000.3 984,1002.1 987.5,1002 991.1,1001.9 994.6,1002.1 998.1,1001 1001.7,1001.4 1005.2,1000.8 1008.8,1000.8 1012.3,1002.4 1015.9,1001.5 1019.4,1003.4 1022.9,1002.2 1026.5,1001.9 1030,1002.9 1033.6,1003.7 1037.1,1003.2 1040.7,1002.7 1044.2,1004.5 1047.7,1006.3 1051.3,1006.8 1054.8,1009 1058.4,1013.3 1061.9,1016.5 1065.4,1018.7 1069,1021.9 1072.5,1025.2 1076.1,1029.2 1079.6,1031 1083.2,1033.5 1086.7,1036.7 1090.2,1039.3 1093.8,1043.4 1097.3,1046.4 1100.9,1049.1 1104.4,1052.5 1107.9,1054.7 1111.5,1057.4 1115,1060.8 1118.6,1062 1122.1,1065.4 1125.7,1071.8 1129.2,1073.8 1132.7,1076.6 1136.3,1078 1139.8,1080.1 1143.4,1083.5 1146.9,1087.7 1150.5,1091.2 1154,1092.3 1157.5,1096.1 1161.1,1096.7 1164.6,1099.9 1168.2,1104.5 1171.7,1106.3 1175.2,1107.5 1178.8,1112.8 1182.3,1114.8 1185.9,1117.9 1189.4,1120.5 1193,1124.4 1196.5,1126 1200,1128.7 1203.6,1129.3 1207.1,1132.9 1210.7,1134.3 1214.2,1136.5 1217.8,1139.7 1221.3,1140.8 1224.8,1143 1228.4,1146.9 1231.9,1148.2 1235.5,1148.7 1239,1150.6 1242.5,1150.7 1246.1,1153.6 1249.6,1155.2 1253.2,1155.7 1256.7,1157.4 1260.3,1159.7 1263.8,1161.4 1267.3,1162.6 1270.9,1165.4 1274.4,1165.6 1278,1168.4 1281.5,1170.1 1285,1171.8 1288.6,1173.6 1292.1,1174.1 1295.7,1176.6 1299.2,1177.4 1302.8,1178.5 1306.3,1179.3 1309.8,1180.7 1313.4,1182.9 1316.9,1183.3 1320.5,1185.1 1324,1186.8 1327.6,1187.9 1331.1,1189.4 1334.6,1189.3 1338.2,1189.8 1341.7,1192.1 1345.3,1192.7 1348.8,1194.1 1352.3,1194.4 1355.9,1196.1 1359.4,1196.9 1363,1197.7 1366.5,1198.5 1370.1,1199.3 1373.6,1200 1377.1,1200.7 1380.7,1201.9 1384.2,1201.6 1387.8,1203.6 1391.3,1203 1394.9,1204.1 1398.4,1203.9 1401.9,1204.2 1405.5,1206 1409,1205 1412.6,1204.8 1416.1,1205.5 1419.6,1206.1 1423.2,1207.9 1426.7,1207.1 1430.3,1207.8 1433.8,1207 1437.4,1208.1 1440.9,1208.5 1444.4,1209.5 1448,1208.3 1451.5,1209.3 1455.1,1209.4 1458.6,1208.9 1462.1,1209.7 1465.7,1209.8 1469.2,1208.9 1472.8,1210.9 1476.3,1211.1 1479.9,1210.8 1483.4,1210.5 1486.9,1212.4 1490.5,1212 1494,1212.7 1497.6,1213.2 1501.1,1212.3 1504.7,1213.4 1508.2,1213 1511.7,1213.4 1515.3,1213.6 1518.8,1214 1522.4,1214.9 1525.9,1214.6 1529.4,1214.7 1533,1214.8 1536.5,1215.5 1540.1,1215 1543.6,1215.5 1547.2,1216 1550.7,1215.9 1554.2,1216.4 1557.8,1216.4 1561.3,1218.2 1564.9,1218 1568.4,1217.7 1572,1217.6 1575.5,1219.2 1579,1218.3 1582.6,1218.3 1586.1,1218.7 1589.7,1218.9 1593.2,1219.8 1596.7,1219.1 1600.3,1220.6 1603.8,1219 1607.4,1220.2 1610.9,1219.4 1614.5,1221.2 1618,1220.2 1621.5,1220.5 1625.1,1221.3 1628.6,1221.7 1632.2,1220.4 1635.7,1221.1 1639.2,1220.6 1642.8,1221.7 1646.3,1221.8 1649.9,1221.8 1653.4,1221.8 1657,1222.1 1660.5,1222.1 1664,1223 1667.6,1223.8 1671.1,1221.8 1674.7,1223.1 1678.2,1223.1 1681.8,1223.8 1685.3,1223 1688.8,1223.7 1692.4,1223.3 1695.9,1224.5 1699.5,1224.2 1703,1224.2 1706.5,1224.7 1710.1,1224.4 1713.6,1223.8 1717.2,1225.2 1720.7,1225.1 1724.3,1225 1727.8,1225.8 1731.3,1226.1 1734.9,1224.8 1738.4,1225.1 1742,1226.6 1745.5,1226.7 1749.1,1225.5 1752.6,1225.3 1756.1,1225.8 1759.7,1225.9 1763.2,1225.4 1766.8,1226.5 1770.3,1225.8 1773.8,1225.9 1777.4,1227.3 1780.9,1226.4 1784.5,1226.8 1788,1227.3 1791.6,1227.5 1795.1,1226.9 1798.6,1227.2 1802.2,1226.8 1805.7,1228.4 1809.3,1227.8 1812.8,1226.8 1816.3,1227.5 1819.9,1228 1823.4,1228 1827,1228.9 1830.5,1228.7 1834.1,1227.6 1837.6,1227.9 1841.1,1227.3 1844.7,1228.3 1848.2,1228.3 1851.8,1229.9 1855.3,1228.4 1858.9,1227.1 1862.4,1228.1 1865.9,1228.6 1869.5,1227.8 1873,1228.1 1876.6,1228.5 1880.1,1229 1883.6,1228.8 1887.2,1228.4 1890.7,1229.5 1894.3,1228.7 1897.8,1228.8 1901.4,1228.4 1904.9,1228.8 1908.4,1229.7 1912,1228.4 1915.5,1229.4 1919.1,1230 1922.6,1229.4 1926.2,1229.8 1929.7,1229 1933.2,1230.6 1936.8,1230.5 1940.3,1230 1943.9,1228.9 1947.4,1229.4 1950.9,1230.7 1954.5,1231.2 1958,1230.4 1961.6,1231 1965.1,1229.9 1968.7,1230.2 1972.2,1230.4 1975.7,1230.7 1979.3,1229.6 1982.8,1231.1 1986.4,1231.4 1989.9,1230 1993.4,1229.9 1997,1231 2000.5,1230.4 2004.1,1229.4 2007.6,1231.4 2011.2,1231.1 2014.7,1230.7 2018.2,1232.3 2021.8,1231.2 2025.3,1230.7 2028.9,1231.2 2032.4,1230.6 2036,1230.8 2039.5,1231.5 2043,1231 2046.6,1231.1 2050.1,1232.4 2053.7,1232 2057.2,1232 2060.7,1231.8 2064.3,1231.8 2067.8,1232.5 2071.4,1231.6 2074.9,1232.8 2078.5,1231.1 2082,1231.5 2085.5,1230.9 2089.1,1231.5 2092.6,1232.1 2096.2,1232.7 2099.7,1231.4 2103.3,1231.8 2106.8,1231.6 2110.3,1231.4 2113.9,1231.2 2117.4,1231.9 2121,1230.9 2124.5,1232 2128,1232 2131.6,1231.6 2135.1,1231.4 2138.7,1231.1 2142.2,1233.1 2145.8,1231.2 2149.3,1232.9 2152.8,1232.4 2156.4,1231.8" fill="none" stroke="#00f" stroke-width="11" stroke-linejoin="round" stroke-linecap="round"/>
<path d="M318.1 1272.3L330.6 1250.6H305.6zM325.2 1272.4L337.7 1250.8H312.7zM332.3 1272.2L344.8 1250.5H319.8zM339.3 1272.8L351.8 1251.2H326.8zM346.4 1272.3L358.9 1250.6H333.9zM353.5 1271.9L366 1250.2H341zM360.6 1272.2L373.1 1250.6H348.1zM367.7 1271.9L380.2 1250.3H355.2zM374.8 1272.6L387.3 1251H362.3zM381.8 1271.8L394.3 1250.2H369.3zM388.9 1271.2L401.4 1249.5H376.4zM396 1272.7L408.5 1251.1H383.5zM403.1 1272.5L415.6 1250.8H390.6zM410.2 1272.6L422.7 1251H397.7zM417.3 1273.5L429.8 1251.9H404.8zM424.3 1272L436.8 1250.4H411.8zM431.4 1272.5L443.9 1250.8H418.9zM438.5 1272.3L451 1250.6H426zM445.6 1271L458.1 1249.4H433.1zM452.7 1272.1L465.2 1250.4H440.2zM459.8 1271.2L472.3 1249.6H447.3zM466.8 1272.2L479.3 1250.6H454.3zM473.9 1271.5L486.4 1249.9H461.4zM481 1271.5L493.5 1249.8H468.5zM488.1 1273L500.6 1251.4H475.6zM495.2 1271.9L507.7 1250.3H482.7zM502.3 1272L514.8 1250.3H489.8zM509.4 1272.4L521.9 1250.7H496.9zM516.4 1270.9L528.9 1249.2H503.9zM523.5 1271.6L536 1250H511zM530.6 1271.7L543.1 1250H518.1zM537.7 1272.4L550.2 1250.8H525.2zM544.8 1272.3L557.3 1250.7H532.3zM551.9 1271.8L564.4 1250.1H539.4zM558.9 1273.2L571.4 1251.6H546.4zM566 1271.8L578.5 1250.2H553.5zM573.1 1271.7L585.6 1250H560.6zM580.2 1272.8L592.7 1251.1H567.7zM587.3 1272.1L599.8 1250.4H574.8zM594.4 1271.9L606.9 1250.3H581.9zM601.4 1271.6L613.9 1249.9H588.9zM608.5 1271.9L621 1250.3H596zM615.6 1272L628.1 1250.3H603.1zM622.7 1271.9L635.2 1250.2H610.2zM629.8 1272.6L642.3 1251H617.3zM636.9 1273.4L649.4 1251.8H624.4zM643.9 1269.7L656.4 1248.1H631.4zM651 1260.1L663.5 1238.5H638.5zM658.1 1231.4L670.6 1209.7H645.6zM665.2 1198.7L677.7 1177.1H652.7zM672.3 1165.1L684.8 1143.4H659.8zM679.4 1135.3L691.9 1113.7H666.9zM686.5 1114.7L699 1093.1H674zM693.5 1093.7L706 1072H681zM700.6 1082.7L713.1 1061.1H688.1zM707.7 1073.7L720.2 1052H695.2zM714.8 1064.4L727.3 1042.7H702.3zM721.9 1057.5L734.4 1035.9H709.4zM729 1051L741.5 1029.4H716.5zM736 1044.1L748.5 1022.4H723.5zM743.1 1039.4L755.6 1017.7H730.6zM750.2 1036.3L762.7 1014.7H737.7zM757.3 1034.3L769.8 1012.6H744.8zM764.4 1032.3L776.9 1010.7H751.9zM771.5 1030.7L784 1009H759zM778.5 1028.4L791 1006.7H766zM785.6 1026.7L798.1 1005H773.1zM792.7 1025.6L805.2 1004H780.2zM799.8 1025.5L812.3 1003.9H787.3zM806.9 1023.6L819.4 1002H794.4zM814 1022.8L826.5 1001.1H801.5zM821 1021.2L833.5 999.5H808.5zM828.1 1021.3L840.6 999.6H815.6zM835.2 1021L847.7 999.3H822.7zM842.3 1020.1L854.8 998.5H829.8zM849.4 1019.2L861.9 997.5H836.9zM856.5 1019L869 997.4H844zM863.6 1018.2L876.1 996.6H851.1zM870.6 1016.3L883.1 994.6H858.1zM877.7 1014.8L890.2 993.2H865.2zM884.8 1013L897.3 991.4H872.3zM891.9 1013L904.4 991.4H879.4zM899 1010.8L911.5 989.1H886.5zM906.1 1012.2L918.6 990.6H893.6zM913.1 1011.9L925.6 990.2H900.6zM920.2 1012.2L932.7 990.6H907.7zM927.3 1012.4L939.8 990.7H914.8zM934.4 1012.3L946.9 990.6H921.9zM941.5 1012.4L954 990.7H929zM948.6 1011.6L961.1 989.9H936.1zM955.6 1011.5L968.1 989.8H943.1zM962.7 1011.8L975.2 990.2H950.2zM969.8 1012.8L982.3 991.1H957.3zM976.9 1011.7L989.4 990H964.4zM984 1012.9L996.5 991.2H971.5zM991.1 1012.7L1003.6 991.1H978.6zM998.1 1011.8L1010.6 990.1H985.6zM1005.2 1011.6L1017.7 989.9H992.7zM1012.3 1013.2L1024.8 991.5H999.8zM1019.4 1014.2L1031.9 992.6H1006.9zM1026.5 1012.7L1039 991.1H1014zM1033.6 1014.6L1046.1 992.9H1021.1zM1040.7 1013.5L1053.2 991.8H1028.2zM1047.7 1017.2L1060.2 995.5H1035.2zM1054.8 1019.8L1067.3 998.2H1042.3zM1061.9 1027.4L1074.4 1005.7H1049.4zM1069 1032.7L1081.5 1011.1H1056.5zM1076.1 1040.1L1088.6 1018.4H1063.6zM1083.2 1044.3L1095.7 1022.6H1070.7zM1090.2 1050.1L1102.7 1028.5H1077.7zM1097.3 1057.2L1109.8 1035.6H1084.8zM1104.4 1063.4L1116.9 1041.7H1091.9zM1111.5 1068.2L1124 1046.6H1099zM1118.6 1072.8L1131.1 1051.2H1106.1zM1125.7 1082.6L1138.2 1060.9H1113.2zM1132.7 1087.5L1145.2 1065.8H1120.2zM1139.8 1090.9L1152.3 1069.3H1127.3zM1146.9 1098.5L1159.4 1076.9H1134.4zM1154 1103.1L1166.5 1081.5H1141.5zM1161.1 1107.5L1173.6 1085.9H1148.6zM1168.2 1115.4L1180.7 1093.7H1155.7zM1175.2 1118.3L1187.7 1096.7H1162.7zM1182.3 1125.6L1194.8 1103.9H1169.8zM1189.4 1131.3L1201.9 1109.6H1176.9zM1196.5 1136.9L1209 1115.2H1184zM1203.6 1140.1L1216.1 1118.5H1191.1zM1210.7 1145.2L1223.2 1123.5H1198.2zM1217.8 1150.5L1230.3 1128.9H1205.3zM1224.8 1153.8L1237.3 1132.1H1212.3zM1231.9 1159L1244.4 1137.4H1219.4zM1239 1161.4L1251.5 1139.8H1226.5zM1246.1 1164.4L1258.6 1142.7H1233.6zM1253.2 1166.6L1265.7 1144.9H1240.7zM1260.3 1170.5L1272.8 1148.9H1247.8zM1267.3 1173.5L1279.8 1151.8H1254.8zM1274.4 1176.5L1286.9 1154.8H1261.9zM1281.5 1180.9L1294 1159.2H1269zM1288.6 1184.4L1301.1 1162.8H1276.1zM1295.7 1187.4L1308.2 1165.7H1283.2zM1302.8 1189.3L1315.3 1167.7H1290.3zM1309.8 1191.5L1322.3 1169.9H1297.3zM1316.9 1194.1L1329.4 1172.5H1304.4zM1324 1197.7L1336.5 1176H1311.5zM1331.1 1200.2L1343.6 1178.5H1318.6zM1338.2 1200.7L1350.7 1179H1325.7zM1345.3 1203.5L1357.8 1181.8H1332.8zM1352.3 1205.3L1364.8 1183.6H1339.8zM1359.4 1207.7L1371.9 1186H1346.9zM1366.5 1209.3L1379 1187.6H1354zM1373.6 1210.8L1386.1 1189.1H1361.1zM1380.7 1212.7L1393.2 1191.1H1368.2zM1387.8 1214.4L1400.3 1192.7H1375.3zM1394.9 1214.9L1407.4 1193.3H1382.4zM1401.9 1215.1L1414.4 1193.4H1389.4zM1409 1215.8L1421.5 1194.2H1396.5zM1416.1 1216.3L1428.6 1194.7H1403.6zM1423.2 1218.7L1435.7 1197.1H1410.7zM1430.3 1218.6L1442.8 1197H1417.8zM1437.4 1218.9L1449.9 1197.2H1424.9zM1444.4 1220.3L1456.9 1198.7H1431.9zM1451.5 1220.2L1464 1198.5H1439zM1458.6 1219.7L1471.1 1198H1446.1zM1465.7 1220.7L1478.2 1199H1453.2zM1472.8 1221.7L1485.3 1200H1460.3zM1479.9 1221.6L1492.4 1199.9H1467.4zM1486.9 1223.3L1499.4 1201.6H1474.4zM1494 1223.5L1506.5 1201.9H1481.5zM1501.1 1223.1L1513.6 1201.5H1488.6zM1508.2 1223.8L1520.7 1202.2H1495.7zM1515.3 1224.5L1527.8 1202.8H1502.8zM1522.4 1225.7L1534.9 1204.1H1509.9zM1529.4 1225.5L1541.9 1203.8H1516.9zM1536.5 1226.3L1549 1204.6H1524zM1543.6 1226.3L1556.1 1204.6H1531.1zM1550.7 1226.7L1563.2 1205.1H1538.2zM1557.8 1227.2L1570.3 1205.5H1545.3zM1564.9 1228.8L1577.4 1207.2H1552.4zM1572 1228.5L1584.5 1206.8H1559.5zM1579 1229.1L1591.5 1207.5H1566.5zM1586.1 1229.5L1598.6 1207.9H1573.6zM1593.2 1230.6L1605.7 1209H1580.7zM1600.3 1231.4L1612.8 1209.8H1587.8zM1607.4 1231L1619.9 1209.4H1594.9zM1614.5 1232.1L1627 1210.4H1602zM1621.5 1231.3L1634 1209.7H1609zM1628.6 1232.5L1641.1 1210.9H1616.1zM1635.7 1231.9L1648.2 1210.3H1623.2zM1642.8 1232.6L1655.3 1210.9H1630.3zM1649.9 1232.6L1662.4 1211H1637.4zM1657 1232.9L1669.5 1211.3H1644.5zM1664 1233.8L1676.5 1212.2H1651.5zM1671.1 1232.7L1683.6 1211H1658.6zM1678.2 1233.9L1690.7 1212.2H1665.7zM1685.3 1233.9L1697.8 1212.2H1672.8zM1692.4 1234.1L1704.9 1212.4H1679.9zM1699.5 1235.1L1712 1213.4H1687zM1706.5 1235.5L1719 1213.8H1694zM1713.6 1234.6L1726.1 1212.9H1701.1zM1720.7 1236L1733.2 1214.3H1708.2zM1727.8 1236.6L1740.3 1215H1715.3zM1734.9 1235.6L1747.4 1214H1722.4zM1742 1237.4L1754.5 1215.8H1729.5zM1749.1 1236.3L1761.6 1214.7H1736.6zM1756.1 1236.6L1768.6 1214.9H1743.6zM1763.2 1236.2L1775.7 1214.6H1750.7zM1770.3 1236.6L1782.8 1214.9H1757.8zM1777.4 1238.1L1789.9 1216.4H1764.9zM1784.5 1237.7L1797 1216H1772zM1791.6 1238.3L1804.1 1216.7H1779.1zM1798.6 1238L1811.1 1216.4H1786.1zM1805.7 1239.2L1818.2 1217.5H1793.2zM1812.8 1237.6L1825.3 1216H1800.3zM1819.9 1238.9L1832.4 1217.2H1807.4zM1827 1239.7L1839.5 1218H1814.5zM1834.1 1238.4L1846.6 1216.7H1821.6zM1841.1 1238.1L1853.6 1216.4H1828.6zM1848.2 1239.1L1860.7 1217.4H1835.7zM1855.3 1239.2L1867.8 1217.6H1842.8zM1862.4 1238.9L1874.9 1217.2H1849.9zM1869.5 1238.7L1882 1217H1857zM1876.6 1239.3L1889.1 1217.7H1864.1zM1883.6 1239.6L1896.1 1217.9H1871.1zM1890.7 1240.3L1903.2 1218.7H1878.2zM1897.8 1239.7L1910.3 1218H1885.3zM1904.9 1239.6L1917.4 1218H1892.4zM1912 1239.3L1924.5 1217.6H1899.5zM1919.1 1240.8L1931.6 1219.1H1906.6zM1926.2 1240.6L1938.7 1219H1913.7zM1933.2 1241.4L1945.7 1219.7H1920.7zM1940.3 1240.9L1952.8 1219.2H1927.8zM1947.4 1240.2L1959.9 1218.6H1934.9zM1954.5 1242L1967 1220.3H1942zM1961.6 1241.8L1974.1 1220.2H1949.1zM1968.7 1241.1L1981.2 1219.4H1956.2zM1975.7 1241.5L1988.2 1219.9H1963.2zM1982.8 1242L1995.3 1220.3H1970.3zM1989.9 1240.8L2002.4 1219.2H1977.4zM1997 1241.8L2009.5 1220.2H1984.5zM2004.1 1240.3L2016.6 1218.6H1991.6zM2011.2 1241.9L2023.7 1220.2H1998.7zM2018.2 1243.1L2030.7 1221.5H2005.7zM2025.3 1241.5L2037.8 1219.9H2012.8zM2032.4 1241.4L2044.9 1219.8H2019.9zM2039.5 1242.4L2052 1220.7H2027zM2046.6 1241.9L2059.1 1220.3H2034.1zM2053.7 1242.8L2066.2 1221.1H2041.2zM2060.7 1242.7L2073.2 1221H2048.2zM2067.8 1243.3L2080.3 1221.6H2055.3zM2074.9 1243.6L2087.4 1221.9H2062.4zM2082 1242.4L2094.5 1220.7H2069.5zM2089.1 1242.4L2101.6 1220.7H2076.6zM2096.2 1243.5L2108.7 1221.8H2083.7zM2103.3 1242.7L2115.8 1221H2090.8zM2110.3 1242.3L2122.8 1220.6H2097.8zM2117.4 1242.8L2129.9 1221.1H2104.9zM2124.5 1242.8L2137 1221.2H2112zM2131.6 1242.4L2144.1 1220.7H2119.1zM2138.7 1242L2151.2 1220.3H2126.2zM2145.8 1242L2158.3 1220.4H2133.3zM2152.8 1243.2L2165.3 1221.5H2140.3z" fill="#00f"/>
<polyline points="318.1,1459.3 321.6,1460.6 325.2,1461 328.7,1459.4 332.3,1459.8 335.8,1460.6 339.3,1460.2 342.9,1461.2 346.4,1459.7 350,1460.3 353.5,1459.2 357,1461.3 360.6,1459.6 364.1,1458.7 367.7,1459.9 371.2,1459.9 374.8,1461.1 378.3,1459.8 381.8,1460 385.4,1460.4 388.9,1461 392.5,1460 396,1460.6 399.6,1460.3 403.1,1459.8 406.6,1460 410.2,1460 413.7,1459.5 417.3,1460.7 420.8,1459.2 424.3,1460.7 427.9,1460.6 431.4,1459.9 435,1459.5 438.5,1459.9 442.1,1460.3 445.6,1460.4 449.1,1460.2 452.7,1460.6 456.2,1459.7 459.8,1460.1 463.3,1459.1 466.8,1460.5 470.4,1460.1 473.9,1459.8 477.5,1460.7 481,1460.4 484.6,1458.3 488.1,1460 491.6,1459.1 495.2,1460.6 498.7,1461.5 502.3,1459.7 505.8,1460 509.4,1459.8 512.9,1460.2 516.4,1460.4 520,1460.8 523.5,1459.4 527.1,1460.9 530.6,1459.4 534.1,1460.2 537.7,1460.7 541.2,1460.4 544.8,1459.4 548.3,1459.6 551.9,1459.7 555.4,1460 558.9,1460.7 562.5,1459.2 566,1460.3 569.6,1460.4 573.1,1460.3 576.6,1460.3 580.2,1460.9 583.7,1458.9 587.3,1456.2 590.8,1453 594.4,1452.1 597.9,1451.1 601.4,1456 605,1456.8 608.5,1456.8 612.1,1456.2 615.6,1455.3 619.2,1455.9 622.7,1454.7 626.2,1453 629.8,1448.8 633.3,1448 636.9,1446.2 640.4,1447.9 643.9,1451.8 647.5,1454.5 651,1452.3 654.6,1447.6 658.1,1443.2 661.7,1438 665.2,1431.9 668.7,1427.2 672.3,1421.7 675.8,1417.2 679.4,1412.8 682.9,1406 686.5,1398.7 690,1391.1 693.5,1384.9 697.1,1378.6 700.6,1374.4 704.2,1368.2 707.7,1363.6 711.2,1358.2 714.8,1353.7 718.3,1349.9 721.9,1344.5 725.4,1340.8 729,1336.9 732.5,1334.9 736,1331.3 739.6,1329.1 743.1,1327 746.7,1325.2 750.2,1324.4 753.8,1323.6 757.3,1319.6 760.8,1319.1 764.4,1317.4 767.9,1315.9 771.5,1316 775,1315.6 778.5,1315 782.1,1316.2 785.6,1313.4 789.2,1314.1 792.7,1313.4 796.3,1312.2 799.8,1312.1 803.3,1312.1 806.9,1311.2 810.4,1311 814,1310.7 817.5,1308.7 821,1310.4 824.6,1310.6 828.1,1309.4 831.7,1309.1 835.2,1307.3 838.8,1307.8 842.3,1307.1 845.8,1306.9 849.4,1307.5 852.9,1306.2 856.5,1306.3 860,1304.9 863.6,1305.7 867.1,1305.6 870.6,1304.8 874.2,1304.5 877.7,1305.8 881.3,1303.6 884.8,1303.4 888.3,1303.2 891.9,1304.1 895.4,1304.4 899,1302.9 902.5,1302 906.1,1301.8 909.6,1302.3 913.1,1300.7 916.7,1301.8 920.2,1301.4 923.8,1300.2 927.3,1300.2 930.9,1300 934.4,1300.1 937.9,1298.3 941.5,1299.4 945,1298.2 948.6,1297.8 952.1,1298.2 955.6,1297.9 959.2,1297.3 962.7,1296.8 966.3,1297.1 969.8,1298.5 973.4,1298.7 976.9,1297.9 980.4,1298.1 984,1297 987.5,1297.2 991.1,1297.4 994.6,1296.5 998.1,1296.5 1001.7,1297.1 1005.2,1296.9 1008.8,1296.4 1012.3,1297.2 1015.9,1296.8 1019.4,1297.8 1022.9,1298.9 1026.5,1301.8 1030,1305.7 1033.6,1308.9 1037.1,1312.2 1040.7,1316.3 1044.2,1321 1047.7,1324.7 1051.3,1328.3 1054.8,1329.5 1058.4,1333.1 1061.9,1335.9 1065.4,1338.9 1069,1341.2 1072.5,1343.8 1076.1,1347.2 1079.6,1349.3 1083.2,1351 1086.7,1354.9 1090.2,1357.1 1093.8,1358.5 1097.3,1361.6 1100.9,1362.9 1104.4,1366.2 1107.9,1367.5 1111.5,1369.3 1115,1371.6 1118.6,1373.5 1122.1,1376.2 1125.7,1378.4 1129.2,1380.5 1132.7,1382.4 1136.3,1382.6 1139.8,1386.9 1143.4,1387.6 1146.9,1390.5 1150.5,1392.6 1154,1393.6 1157.5,1394.5 1161.1,1396 1164.6,1397.4 1168.2,1398.5 1171.7,1399.8 1175.2,1401.1 1178.8,1403.9 1182.3,1404.7 1185.9,1406.7 1189.4,1407.4 1193,1408.8 1196.5,1409.7 1200,1411 1203.6,1412 1207.1,1412.4 1210.7,1412.6 1214.2,1413.2 1217.8,1415.3 1221.3,1414.9 1224.8,1415.6 1228.4,1417.5 1231.9,1418 1235.5,1418.4 1239,1418.6 1242.5,1420.9 1246.1,1420.2 1249.6,1420.9 1253.2,1420.9 1256.7,1420.6 1260.3,1421.1 1263.8,1422.6 1267.3,1423 1270.9,1423 1274.4,1422.9 1278,1423.1 1281.5,1424.1 1285,1423.7 1288.6,1425.4 1292.1,1425.9 1295.7,1427.2 1299.2,1426.3 1302.8,1425.7 1306.3,1425.8 1309.8,1424.5 1313.4,1426.5 1316.9,1427 1320.5,1427.9 1324,1428 1327.6,1428.2 1331.1,1428.2 1334.6,1428.8 1338.2,1429.5 1341.7,1428.2 1345.3,1428.8 1348.8,1428.5 1352.3,1430.5 1355.9,1430.5 1359.4,1430.4 1363,1429.4 1366.5,1430.4 1370.1,1430.4 1373.6,1430.8 1377.1,1430.8 1380.7,1431.4 1384.2,1431 1387.8,1431.9 1391.3,1431.7 1394.9,1431.5 1398.4,1431.8 1401.9,1431.7 1405.5,1432.6 1409,1432.1 1412.6,1432.5 1416.1,1432.2 1419.6,1431.7 1423.2,1433.2 1426.7,1432.1 1430.3,1433.3 1433.8,1433.2 1437.4,1432.1 1440.9,1432.6 1444.4,1433 1448,1432.9 1451.5,1432.7 1455.1,1434 1458.6,1433.5 1462.1,1433.9 1465.7,1433.5 1469.2,1434.1 1472.8,1433.5 1476.3,1434 1479.9,1434.4 1483.4,1434.2 1486.9,1434 1490.5,1433.7 1494,1434.5 1497.6,1434.6 1501.1,1434.3 1504.7,1434.1 1508.2,1434.9 1511.7,1436.1 1515.3,1434.5 1518.8,1435 1522.4,1435 1525.9,1433.3 1529.4,1435 1533,1434.5 1536.5,1435.8 1540.1,1434.8 1543.6,1434.5 1547.2,1434.9 1550.7,1435.2 1554.2,1434.7 1557.8,1435.1 1561.3,1434.3 1564.9,1435 1568.4,1435.6 1572,1436.4 1575.5,1435.6 1579,1435.4 1582.6,1436 1586.1,1435.9 1589.7,1436.3 1593.2,1436 1596.7,1435.3 1600.3,1435.5 1603.8,1435.5 1607.4,1435.6 1610.9,1435.5 1614.5,1434.9 1618,1434.2 1621.5,1435 1625.1,1434.2 1628.6,1435.5 1632.2,1435.5 1635.7,1434.5 1639.2,1435.9 1642.8,1436 1646.3,1435.6 1649.9,1436.6 1653.4,1436.7 1657,1434.9 1660.5,1436.2 1664,1435.9 1667.6,1435.9 1671.1,1436.2 1674.7,1435.2 1678.2,1435.3 1681.8,1435.2 1685.3,1435.2 1688.8,1435.6 1692.4,1434.8 1695.9,1435.1 1699.5,1436.1 1703,1435.7 1706.5,1436 1710.1,1434.6 1713.6,1435.3 1717.2,1435.4 1720.7,1435.8 1724.3,1435.4 1727.8,1436.4 1731.3,1435.8 1734.9,1435.8 1738.4,1435.8 1742,1436.3 1745.5,1435.6 1749.1,1436.5 1752.6,1436.2 1756.1,1436 1759.7,1435.9 1763.2,1436.2 1766.8,1436.5 1770.3,1436.5 1773.8,1436.2 1777.4,1436.5 1780.9,1436 1784.5,1436.7 1788,1436 1791.6,1434.8 1795.1,1436.8 1798.6,1436.1 1802.2,1435.3 1805.7,1435.9 1809.3,1435.5 1812.8,1437.3 1816.3,1436.4 1819.9,1435.2 1823.4,1436.4 1827,1435.9 1830.5,1437.3 1834.1,1435.5 1837.6,1434.8 1841.1,1436.2 1844.7,1436 1848.2,1436 1851.8,1434.9 1855.3,1436.5 1858.9,1437.2 1862.4,1435.1 1865.9,1437 1869.5,1435.9 1873,1437.7 1876.6,1436.6 1880.1,1436.2 1883.6,1437 1887.2,1436.6 1890.7,1436 1894.3,1436.8 1897.8,1436.1 1901.4,1435.3 1904.9,1437.6 1908.4,1436.2 1912,1436.1 1915.5,1436.6 1919.1,1435.5 1922.6,1435.6 1926.2,1436.2 1929.7,1436.2 1933.2,1436.5 1936.8,1437.2 1940.3,1436.2 1943.9,1436.8 1947.4,1436.9 1950.9,1435.9 1954.5,1436.7 1958,1436 1961.6,1437.2 1965.1,1436.9 1968.7,1436.6 1972.2,1435.8 1975.7,1436.7 1979.3,1436.2 1982.8,1437.1 1986.4,1436.6 1989.9,1436.2 1993.4,1437.2 1997,1437.1 2000.5,1436.3 2004.1,1437.4 2007.6,1436.5 2011.2,1436.5 2014.7,1436.8 2018.2,1436.3 2021.8,1436.5 2025.3,1436.7 2028.9,1437.7 2032.4,1437.7 2036,1436.6 2039.5,1437.8 2043,1436.8 2046.6,1437.1 2050.1,1437.4 2053.7,1437 2057.2,1438.3 2060.7,1437 2064.3,1436.2 2067.8,1437.7 2071.4,1436.6 2074.9,1436.7 2078.5,1435.1 2082,1437.5 2085.5,1437.4 2089.1,1437.4 2092.6,1437.5 2096.2,1438 2099.7,1436.9 2103.3,1437.5 2106.8,1436.5 2110.3,1436.8" fill="none" stroke="#0ff" stroke-width="11" stroke-linejoin="round" stroke-linecap="round"/>
<path d="M318.1 1446.1L331.3 1459.3L318.1 1472.5L304.9 1459.3zM325.2 1447.8L338.4 1461L325.2 1474.2L312 1461zM332.3 1446.6L345.5 1459.8L332.3 1473L319.1 1459.8zM339.3 1447L352.5 1460.2L339.3 1473.4L326.1 1460.2zM346.4 1446.5L359.6 1459.7L346.4 1472.9L333.2 1459.7zM353.5 1446L366.7 1459.2L353.5 1472.4L340.3 1459.2zM360.6 1446.4L373.8 1459.6L360.6 1472.8L347.4 1459.6zM367.7 1446.7L380.9 1459.9L367.7 1473.1L354.5 1459.9zM374.8 1447.9L388 1461.1L374.8 1474.3L361.6 1461.1zM381.8 1446.8L395 1460L381.8 1473.2L368.6 1460zM388.9 1447.8L402.1 1461L388.9 1474.2L375.7 1461zM396 1447.4L409.2 1460.6L396 1473.8L382.8 1460.6zM403.1 1446.6L416.3 1459.8L403.1 1473L389.9 1459.8zM410.2 1446.8L423.4 1460L410.2 1473.2L397 1460zM417.3 1447.5L430.5 1460.7L417.3 1473.9L404.1 1460.7zM424.3 1447.5L437.5 1460.7L424.3 1473.9L411.1 1460.7zM431.4 1446.7L444.6 1459.9L431.4 1473.1L418.2 1459.9zM438.5 1446.7L451.7 1459.9L438.5 1473.1L425.3 1459.9zM445.6 1447.2L458.8 1460.4L445.6 1473.6L432.4 1460.4zM452.7 1447.4L465.9 1460.6L452.7 1473.8L439.5 1460.6zM459.8 1446.9L473 1460.1L459.8 1473.3L446.6 1460.1zM466.8 1447.3L480 1460.5L466.8 1473.7L453.6 1460.5zM473.9 1446.6L487.1 1459.8L473.9 1473L460.7 1459.8zM481 1447.2L494.2 1460.4L481 1473.6L467.8 1460.4zM488.1 1446.8L501.3 1460L488.1 1473.2L474.9 1460zM495.2 1447.4L508.4 1460.6L495.2 1473.8L482 1460.6zM502.3 1446.5L515.5 1459.7L502.3 1472.9L489.1 1459.7zM509.4 1446.6L522.6 1459.8L509.4 1473L496.2 1459.8zM516.4 1447.2L529.6 1460.4L516.4 1473.6L503.2 1460.4zM523.5 1446.2L536.7 1459.4L523.5 1472.6L510.3 1459.4zM530.6 1446.2L543.8 1459.4L530.6 1472.6L517.4 1459.4zM537.7 1447.5L550.9 1460.7L537.7 1473.9L524.5 1460.7zM544.8 1446.2L558 1459.4L544.8 1472.6L531.6 1459.4zM551.9 1446.5L565.1 1459.7L551.9 1472.9L538.7 1459.7zM558.9 1447.5L572.1 1460.7L558.9 1473.9L545.7 1460.7zM566 1447.1L579.2 1460.3L566 1473.5L552.8 1460.3zM573.1 1447.1L586.3 1460.3L573.1 1473.5L559.9 1460.3zM580.2 1447.7L593.4 1460.9L580.2 1474.1L567 1460.9zM587.3 1443L600.5 1456.2L587.3 1469.4L574.1 1456.2zM594.4 1438.9L607.6 1452.1L594.4 1465.3L581.2 1452.1zM601.4 1442.8L614.6 1456L601.4 1469.2L588.2 1456zM608.5 1443.6L621.7 1456.8L608.5 1470L595.3 1456.8zM615.6 1442.1L628.8 1455.3L615.6 1468.5L602.4 1455.3zM622.7 1441.5L635.9 1454.7L622.7 1467.9L609.5 1454.7zM629.8 1435.6L643 1448.8L629.8 1462L616.6 1448.8zM636.9 1433L650.1 1446.2L636.9 1459.4L623.7 1446.2zM643.9 1438.6L657.1 1451.8L643.9 1465L630.7 1451.8zM651 1439.1L664.2 1452.3L651 1465.5L637.8 1452.3zM658.1 1430L671.3 1443.2L658.1 1456.4L644.9 1443.2zM665.2 1418.7L678.4 1431.9L665.2 1445.1L652 1431.9zM672.3 1408.5L685.5 1421.7L672.3 1434.9L659.1 1421.7zM679.4 1399.6L692.6 1412.8L679.4 1426L666.2 1412.8zM686.5 1385.5L699.7 1398.7L686.5 1411.9L673.3 1398.7zM693.5 1371.7L706.7 1384.9L693.5 1398.1L680.3 1384.9zM700.6 1361.2L713.8 1374.4L700.6 1387.6L687.4 1374.4zM707.7 1350.4L720.9 1363.6L707.7 1376.8L694.5 1363.6zM714.8 1340.5L728 1353.7L714.8 1366.9L701.6 1353.7zM721.9 1331.3L735.1 1344.5L721.9 1357.7L708.7 1344.5zM729 1323.7L742.2 1336.9L729 1350.1L715.8 1336.9zM736 1318.1L749.2 1331.3L736 1344.5L722.8 1331.3zM743.1 1313.8L756.3 1327L743.1 1340.2L729.9 1327zM750.2 1311.2L763.4 1324.4L750.2 1337.6L737 1324.4zM757.3 1306.4L770.5 1319.6L757.3 1332.8L744.1 1319.6zM764.4 1304.2L777.6 1317.4L764.4 1330.6L751.2 1317.4zM771.5 1302.8L784.7 1316L771.5 1329.2L758.3 1316zM778.5 1301.8L791.7 1315L778.5 1328.2L765.3 1315zM785.6 1300.2L798.8 1313.4L785.6 1326.6L772.4 1313.4zM792.7 1300.2L805.9 1313.4L792.7 1326.6L779.5 1313.4zM799.8 1298.9L813 1312.1L799.8 1325.3L786.6 1312.1zM806.9 1298L820.1 1311.2L806.9 1324.4L793.7 1311.2zM814 1297.5L827.2 1310.7L814 1323.9L800.8 1310.7zM821 1297.2L834.2 1310.4L821 1323.6L807.8 1310.4zM828.1 1296.2L841.3 1309.4L828.1 1322.6L814.9 1309.4zM835.2 1294.1L848.4 1307.3L835.2 1320.5L822 1307.3zM842.3 1293.9L855.5 1307.1L842.3 1320.3L829.1 1307.1zM849.4 1294.3L862.6 1307.5L849.4 1320.7L836.2 1307.5zM856.5 1293.1L869.7 1306.3L856.5 1319.5L843.3 1306.3zM863.6 1292.5L876.8 1305.7L863.6 1318.9L850.4 1305.7zM870.6 1291.6L883.8 1304.8L870.6 1318L857.4 1304.8zM877.7 1292.6L890.9 1305.8L877.7 1319L864.5 1305.8zM884.8 1290.2L898 1303.4L884.8 1316.6L871.6 1303.4zM891.9 1290.9L905.1 1304.1L891.9 1317.3L878.7 1304.1zM899 1289.7L912.2 1302.9L899 1316.1L885.8 1302.9zM906.1 1288.6L919.3 1301.8L906.1 1315L892.9 1301.8zM913.1 1287.5L926.3 1300.7L913.1 1313.9L899.9 1300.7zM920.2 1288.2L933.4 1301.4L920.2 1314.6L907 1301.4zM927.3 1287L940.5 1300.2L927.3 1313.4L914.1 1300.2zM934.4 1286.9L947.6 1300.1L934.4 1313.3L921.2 1300.1zM941.5 1286.2L954.7 1299.4L941.5 1312.6L928.3 1299.4zM948.6 1284.6L961.8 1297.8L948.6 1311L935.4 1297.8zM955.6 1284.7L968.8 1297.9L955.6 1311.1L942.4 1297.9zM962.7 1283.6L975.9 1296.8L962.7 1310L949.5 1296.8zM969.8 1285.3L983 1298.5L969.8 1311.7L956.6 1298.5zM976.9 1284.7L990.1 1297.9L976.9 1311.1L963.7 1297.9zM984 1283.8L997.2 1297L984 1310.2L970.8 1297zM991.1 1284.2L1004.3 1297.4L991.1 1310.6L977.9 1297.4zM998.1 1283.3L1011.3 1296.5L998.1 1309.7L984.9 1296.5zM1005.2 1283.7L1018.4 1296.9L1005.2 1310.1L992 1296.9zM1012.3 1284L1025.5 1297.2L1012.3 1310.4L999.1 1297.2zM1019.4 1284.6L1032.6 1297.8L1019.4 1311L1006.2 1297.8zM1026.5 1288.6L1039.7 1301.8L1026.5 1315L1013.3 1301.8zM1033.6 1295.7L1046.8 1308.9L1033.6 1322.1L1020.4 1308.9zM1040.7 1303.1L1053.9 1316.3L1040.7 1329.5L1027.5 1316.3zM1047.7 1311.5L1060.9 1324.7L1047.7 1337.9L1034.5 1324.7zM1054.8 1316.3L1068 1329.5L1054.8 1342.7L1041.6 1329.5zM1061.9 1322.7L1075.1 1335.9L1061.9 1349.1L1048.7 1335.9zM1069 1328L1082.2 1341.2L1069 1354.4L1055.8 1341.2zM1076.1 1334L1089.3 1347.2L1076.1 1360.4L1062.9 1347.2zM1083.2 1337.8L1096.4 1351L1083.2 1364.2L1070 1351zM1090.2 1343.9L1103.4 1357.1L1090.2 1370.3L1077 1357.1zM1097.3 1348.4L1110.5 1361.6L1097.3 1374.8L1084.1 1361.6zM1104.4 1353L1117.6 1366.2L1104.4 1379.4L1091.2 1366.2zM1111.5 1356.1L1124.7 1369.3L1111.5 1382.5L1098.3 1369.3zM1118.6 1360.3L1131.8 1373.5L1118.6 1386.7L1105.4 1373.5zM1125.7 1365.2L1138.9 1378.4L1125.7 1391.6L1112.5 1378.4zM1132.7 1369.2L1145.9 1382.4L1132.7 1395.6L1119.5 1382.4zM1139.8 1373.7L1153 1386.9L1139.8 1400.1L1126.6 1386.9zM1146.9 1377.3L1160.1 1390.5L1146.9 1403.7L1133.7 1390.5zM1154 1380.4L1167.2 1393.6L1154 1406.8L1140.8 1393.6zM1161.1 1382.8L1174.3 1396L1161.1 1409.2L1147.9 1396zM1168.2 1385.3L1181.4 1398.5L1168.2 1411.7L1155 1398.5zM1175.2 1387.9L1188.4 1401.1L1175.2 1414.3L1162 1401.1zM1182.3 1391.5L1195.5 1404.7L1182.3 1417.9L1169.1 1404.7zM1189.4 1394.2L1202.6 1407.4L1189.4 1420.6L1176.2 1407.4zM1196.5 1396.5L1209.7 1409.7L1196.5 1422.9L1183.3 1409.7zM1203.6 1398.8L1216.8 1412L1203.6 1425.2L1190.4 1412zM1210.7 1399.4L1223.9 1412.6L1210.7 1425.8L1197.5 1412.6zM1217.8 1402.1L1231 1415.3L1217.8 1428.5L1204.6 1415.3zM1224.8 1402.4L1238 1415.6L1224.8 1428.8L1211.6 1415.6zM1231.9 1404.8L1245.1 1418L1231.9 1431.2L1218.7 1418zM1239 1405.4L1252.2 1418.6L1239 1431.8L1225.8 1418.6zM1246.1 1407L1259.3 1420.2L1246.1 1433.4L1232.9 1420.2zM1253.2 1407.7L1266.4 1420.9L1253.2 1434.1L1240 1420.9zM1260.3 1407.9L1273.5 1421.1L1260.3 1434.3L1247.1 1421.1zM1267.3 1409.8L1280.5 1423L1267.3 1436.2L1254.1 1423zM1274.4 1409.7L1287.6 1422.9L1274.4 1436.1L1261.2 1422.9zM1281.5 1410.9L1294.7 1424.1L1281.5 1437.3L1268.3 1424.1zM1288.6 1412.2L1301.8 1425.4L1288.6 1438.6L1275.4 1425.4zM1295.7 1414L1308.9 1427.2L1295.7 1440.4L1282.5 1427.2zM1302.8 1412.5L1316 1425.7L1302.8 1438.9L1289.6 1425.7zM1309.8 1411.3L1323 1424.5L1309.8 1437.7L1296.6 1424.5zM1316.9 1413.8L1330.1 1427L1316.9 1440.2L1303.7 1427zM1324 1414.8L1337.2 1428L1324 1441.2L1310.8 1428zM1331.1 1415L1344.3 1428.2L1331.1 1441.4L1317.9 1428.2zM1338.2 1416.3L1351.4 1429.5L1338.2 1442.7L1325 1429.5zM1345.3 1415.6L1358.5 1428.8L1345.3 1442L1332.1 1428.8zM1352.3 1417.3L1365.5 1430.5L1352.3 1443.7L1339.1 1430.5zM1359.4 1417.2L1372.6 1430.4L1359.4 1443.6L1346.2 1430.4zM1366.5 1417.2L1379.7 1430.4L1366.5 1443.6L1353.3 1430.4zM1373.6 1417.6L1386.8 1430.8L1373.6 1444L1360.4 1430.8zM1380.7 1418.2L1393.9 1431.4L1380.7 1444.6L1367.5 1431.4zM1387.8 1418.7L1401 1431.9L1387.8 1445.1L1374.6 1431.9zM1394.9 1418.3L1408.1 1431.5L1394.9 1444.7L1381.7 1431.5zM1401.9 1418.5L1415.1 1431.7L1401.9 1444.9L1388.7 1431.7zM1409 1418.9L1422.2 1432.1L1409 1445.3L1395.8 1432.1zM1416.1 1419L1429.3 1432.2L1416.1 1445.4L1402.9 1432.2zM1423.2 1420L1436.4 1433.2L1423.2 1446.4L1410 1433.2zM1430.3 1420.1L1443.5 1433.3L1430.3 1446.5L1417.1 1433.3zM1437.4 1418.9L1450.6 1432.1L1437.4 1445.3L1424.2 1432.1zM1444.4 1419.8L1457.6 1433L1444.4 1446.2L1431.2 1433zM1451.5 1419.5L1464.7 1432.7L1451.5 1445.9L1438.3 1432.7zM1458.6 1420.3L1471.8 1433.5L1458.6 1446.7L1445.4 1433.5zM1465.7 1420.3L1478.9 1433.5L1465.7 1446.7L1452.5 1433.5zM1472.8 1420.3L1486 1433.5L1472.8 1446.7L1459.6 1433.5zM1479.9 1421.2L1493.1 1434.4L1479.9 1447.6L1466.7 1434.4zM1486.9 1420.8L1500.1 1434L1486.9 1447.2L1473.7 1434zM1494 1421.3L1507.2 1434.5L1494 1447.7L1480.8 1434.5zM1501.1 1421.1L1514.3 1434.3L1501.1 1447.5L1487.9 1434.3zM1508.2 1421.7L1521.4 1434.9L1508.2 1448.1L1495 1434.9zM1515.3 1421.3L1528.5 1434.5L1515.3 1447.7L1502.1 1434.5zM1522.4 1421.8L1535.6 1435L1522.4 1448.2L1509.2 1435zM1529.4 1421.8L1542.6 1435L1529.4 1448.2L1516.2 1435zM1536.5 1422.6L1549.7 1435.8L1536.5 1449L1523.3 1435.8zM1543.6 1421.3L1556.8 1434.5L1543.6 1447.7L1530.4 1434.5zM1550.7 1422L1563.9 1435.2L1550.7 1448.4L1537.5 1435.2zM1557.8 1421.9L1571 1435.1L1557.8 1448.3L1544.6 1435.1zM1564.9 1421.8L1578.1 1435L1564.9 1448.2L1551.7 1435zM1572 1423.2L1585.2 1436.4L1572 1449.6L1558.8 1436.4zM1579 1422.2L1592.2 1435.4L1579 1448.6L1565.8 1435.4zM1586.1 1422.7L1599.3 1435.9L1586.1 1449.1L1572.9 1435.9zM1593.2 1422.8L1606.4 1436L1593.2 1449.2L1580 1436zM1600.3 1422.3L1613.5 1435.5L1600.3 1448.7L1587.1 1435.5zM1607.4 1422.4L1620.6 1435.6L1607.4 1448.8L1594.2 1435.6zM1614.5 1421.7L1627.7 1434.9L1614.5 1448.1L1601.3 1434.9zM1621.5 1421.8L1634.7 1435L1621.5 1448.2L1608.3 1435zM1628.6 1422.3L1641.8 1435.5L1628.6 1448.7L1615.4 1435.5zM1635.7 1421.3L1648.9 1434.5L1635.7 1447.7L1622.5 1434.5zM1642.8 1422.8L1656 1436L1642.8 1449.2L1629.6 1436zM1649.9 1423.4L1663.1 1436.6L1649.9 1449.8L1636.7 1436.6zM1657 1421.7L1670.2 1434.9L1657 1448.1L1643.8 1434.9zM1664 1422.7L1677.2 1435.9L1664 1449.1L1650.8 1435.9zM1671.1 1423L1684.3 1436.2L1671.1 1449.4L1657.9 1436.2zM1678.2 1422.1L1691.4 1435.3L1678.2 1448.5L1665 1435.3zM1685.3 1422L1698.5 1435.2L1685.3 1448.4L1672.1 1435.2zM1692.4 1421.6L1705.6 1434.8L1692.4 1448L1679.2 1434.8zM1699.5 1422.9L1712.7 1436.1L1699.5 1449.3L1686.3 1436.1zM1706.5 1422.8L1719.7 1436L1706.5 1449.2L1693.3 1436zM1713.6 1422.1L1726.8 1435.3L1713.6 1448.5L1700.4 1435.3zM1720.7 1422.6L1733.9 1435.8L1720.7 1449L1707.5 1435.8zM1727.8 1423.2L1741 1436.4L1727.8 1449.6L1714.6 1436.4zM1734.9 1422.6L1748.1 1435.8L1734.9 1449L1721.7 1435.8zM1742 1423.1L1755.2 1436.3L1742 1449.5L1728.8 1436.3zM1749.1 1423.3L1762.3 1436.5L1749.1 1449.7L1735.9 1436.5zM1756.1 1422.8L1769.3 1436L1756.1 1449.2L1742.9 1436zM1763.2 1423L1776.4 1436.2L1763.2 1449.4L1750 1436.2zM1770.3 1423.3L1783.5 1436.5L1770.3 1449.7L1757.1 1436.5zM1777.4 1423.3L1790.6 1436.5L1777.4 1449.7L1764.2 1436.5zM1784.5 1423.5L1797.7 1436.7L1784.5 1449.9L1771.3 1436.7zM1791.6 1421.6L1804.8 1434.8L1791.6 1448L1778.4 1434.8zM1798.6 1422.9L1811.8 1436.1L1798.6 1449.3L1785.4 1436.1zM1805.7 1422.7L1818.9 1435.9L1805.7 1449.1L1792.5 1435.9zM1812.8 1424.1L1826 1437.3L1812.8 1450.5L1799.6 1437.3zM1819.9 1422L1833.1 1435.2L1819.9 1448.4L1806.7 1435.2zM1827 1422.7L1840.2 1435.9L1827 1449.1L1813.8 1435.9zM1834.1 1422.3L1847.3 1435.5L1834.1 1448.7L1820.9 1435.5zM1841.1 1423L1854.3 1436.2L1841.1 1449.4L1827.9 1436.2zM1848.2 1422.8L1861.4 1436L1848.2 1449.2L1835 1436zM1855.3 1423.3L1868.5 1436.5L1855.3 1449.7L1842.1 1436.5zM1862.4 1421.9L1875.6 1435.1L1862.4 1448.3L1849.2 1435.1zM1869.5 1422.7L1882.7 1435.9L1869.5 1449.1L1856.3 1435.9zM1876.6 1423.4L1889.8 1436.6L1876.6 1449.8L1863.4 1436.6zM1883.6 1423.8L1896.8 1437L1883.6 1450.2L1870.4 1437zM1890.7 1422.8L1903.9 1436L1890.7 1449.2L1877.5 1436zM1897.8 1422.9L1911 1436.1L1897.8 1449.3L1884.6 1436.1zM1904.9 1424.4L1918.1 1437.6L1904.9 1450.8L1891.7 1437.6zM1912 1422.9L1925.2 1436.1L1912 1449.3L1898.8 1436.1zM1919.1 1422.3L1932.3 1435.5L1919.1 1448.7L1905.9 1435.5zM1926.2 1423L1939.4 1436.2L1926.2 1449.4L1913 1436.2zM1933.2 1423.3L1946.4 1436.5L1933.2 1449.7L1920 1436.5zM1940.3 1423L1953.5 1436.2L1940.3 1449.4L1927.1 1436.2zM1947.4 1423.7L1960.6 1436.9L1947.4 1450.1L1934.2 1436.9zM1954.5 1423.5L1967.7 1436.7L1954.5 1449.9L1941.3 1436.7zM1961.6 1424L1974.8 1437.2L1961.6 1450.4L1948.4 1437.2zM1968.7 1423.4L1981.9 1436.6L1968.7 1449.8L1955.5 1436.6zM1975.7 1423.5L1988.9 1436.7L1975.7 1449.9L1962.5 1436.7zM1982.8 1423.9L1996 1437.1L1982.8 1450.3L1969.6 1437.1zM1989.9 1423L2003.1 1436.2L1989.9 1449.4L1976.7 1436.2zM1997 1423.9L2010.2 1437.1L1997 1450.3L1983.8 1437.1zM2004.1 1424.2L2017.3 1437.4L2004.1 1450.6L1990.9 1437.4zM2011.2 1423.3L2024.4 1436.5L2011.2 1449.7L1998 1436.5zM2018.2 1423.1L2031.4 1436.3L2018.2 1449.5L2005 1436.3zM2025.3 1423.5L2038.5 1436.7L2025.3 1449.9L2012.1 1436.7zM2032.4 1424.5L2045.6 1437.7L2032.4 1450.9L2019.2 1437.7zM2039.5 1424.6L2052.7 1437.8L2039.5 1451L2026.3 1437.8zM2046.6 1423.9L2059.8 1437.1L2046.6 1450.3L2033.4 1437.1zM2053.7 1423.8L2066.9 1437L2053.7 1450.2L2040.5 1437zM2060.7 1423.8L2073.9 1437L2060.7 1450.2L2047.5 1437zM2067.8 1424.5L2081 1437.7L2067.8 1450.9L2054.6 1437.7zM2074.9 1423.5L2088.1 1436.7L2074.9 1449.9L2061.7 1436.7zM2082 1424.3L2095.2 1437.5L2082 1450.7L2068.8 1437.5zM2089.1 1424.2L2102.3 1437.4L2089.1 1450.6L2075.9 1437.4zM2096.2 1424.8L2109.4 1438L2096.2 1451.2L2083 1438zM2103.3 1424.3L2116.5 1437.5L2103.3 1450.7L2090.1 1437.5zM2110.3 1423.6L2123.5 1436.8L2110.3 1450L2097.1 1436.8z" fill="#0ff"/>
</g>
<path d="M655.5 579V657" stroke="#f00" stroke-width="3.4"/>
<path d="M644.6 655H666.2L657.4 694.5H653.6z" fill="#f00"/>
<path d="M1030.4 575V653" stroke="#000" stroke-width="3.4"/>
<path d="M1020 651H1040.8L1032.3 691H1028.5z" fill="#000"/>
<path d="M1472 197.9H1632" stroke="#000" stroke-width="12" stroke-linecap="round"/>
<path d="M1472 285.9H1632" stroke="#f00" stroke-width="12" stroke-linecap="round"/>
<path d="M1472 372.9H1632" stroke="#0f0" stroke-width="12" stroke-linecap="round"/>
<path d="M1472 461H1632" stroke="#00f" stroke-width="12" stroke-linecap="round"/>
<path d="M1472 548.8H1632" stroke="#0ff" stroke-width="12" stroke-linecap="round"/>
<rect x="1543" y="188.4" width="18" height="19" fill="#000"/>
<circle cx="1552" cy="285.59999999999997" r="10" fill="#f00"/>
<path d="M1552 358.2L1564 380.2H1540z" fill="#0f0"/>
<path d="M1552 475.7L1564 453.7H1540z" fill="#00f"/>
<path d="M1552 535.5L1565.25 548.8L1552 562L1538.75 548.8z" fill="#0ff"/>
<text transform="translate(143.36 315.80) scale(0.9642 1.0393)" clip-path="url(#footb85)" font-family="Liberation Sans, sans-serif" font-weight="bold" font-size="85" fill="#000">10</text>
<text transform="translate(143.36 846.80) scale(0.9642 1.0393)" clip-path="url(#footb85)" font-family="Liberation Sans, sans-serif" font-weight="bold" font-size="85" fill="#000">10</text>
<text transform="translate(143.36 1377.80) scale(0.9642 1.0393)" clip-path="url(#footb85)" font-family="Liberation Sans, sans-serif" font-weight="bold" font-size="85" fill="#000">10</text>
<text transform="translate(232.54 269.80) scale(1.0042 1.0200)" font-family="Liberation Sans, sans-serif" font-weight="bold" font-size="51" fill="#000">7</text>
<text transform="translate(233.10 800.30) scale(0.9737 0.9931)" font-family="Liberation Sans, sans-serif" font-weight="bold" font-size="51" fill="#000">6</text>
<text transform="translate(233.38 1331.49) scale(0.9451 1.0197)" font-family="Liberation Sans, sans-serif" font-weight="bold" font-size="51" fill="#000">5</text>
<text transform="translate(288.11 1593.23) scale(1.0123 1.0290)" font-family="Liberation Sans, sans-serif" font-weight="bold" font-size="85" fill="#000">0</text>
<text transform="translate(597.34 1593.23) scale(0.9668 1.0290)" clip-path="url(#footb85)" font-family="Liberation Sans, sans-serif" font-weight="bold" font-size="85" fill="#000">100</text>
<text transform="translate(952.01 1593.23) scale(0.9619 1.0290)" font-family="Liberation Sans, sans-serif" font-weight="bold" font-size="85" fill="#000">200</text>
<text transform="translate(1307.19 1593.23) scale(0.9549 1.0290)" font-family="Liberation Sans, sans-serif" font-weight="bold" font-size="85" fill="#000">300</text>
<text transform="translate(1662.11 1593.23) scale(0.9496 1.0290)" font-family="Liberation Sans, sans-serif" font-weight="bold" font-size="85" fill="#000">400</text>
<text transform="translate(2014.86 1593.23) scale(0.9601 1.0290)" font-family="Liberation Sans, sans-serif" font-weight="bold" font-size="85" fill="#000">500</text>
<text transform="translate(1066.03 1735.80) scale(0.9725 0.9978)" font-family="Liberation Sans, sans-serif" font-weight="bold" font-size="83.3" fill="#000"><tspan font-size="88.3" letter-spacing="-3.05">T</tspan>ime (s)</text>
<text transform="translate(79.44 1114.39) rotate(-90) scale(1.0065 1.0176)" font-family="Liberation Sans, sans-serif" font-weight="bold" font-size="83.3" fill="#000"><tspan font-size="88.3" letter-spacing="-3.61">R</tspan>esistance (</text>
<text transform="translate(80.90 618.27) rotate(-90) scale(0.9266 1.0136)" font-family="Liberation Serif, serif" font-weight="bold" font-size="83.3" fill="#000">Ω</text>
<text transform="translate(78.65 553.42) rotate(-90) scale(0.8774 1.0058)" font-family="Liberation Sans, sans-serif" font-weight="bold" font-size="83.3" fill="#000">)</text>
<text transform="translate(411.22 260.25) scale(0.9800 1.0025)" font-family="Liberation Sans, sans-serif" font-size="73.0" fill="#000"><tspan font-size="75.9" letter-spacing="-2.27">G</tspan>as concentration: 2ppm</text>
<text transform="translate(538.82 558.20) scale(0.9933 1.0116)" font-family="Liberation Sans, sans-serif" font-size="72" fill="#f00">gas on</text>
<text transform="translate(925.93 552.00) scale(1.0222 1.0144)" font-family="Liberation Sans, sans-serif" font-size="72" fill="#000">gas off</text>
<text transform="translate(1471.56 134.06) scale(0.9840 0.9925)" font-family="Liberation Sans, sans-serif" font-size="73.0" fill="#000"><tspan font-size="75.9" letter-spacing="-2.27">O</tspan>perating <tspan font-size="75.9" letter-spacing="-1.78">T</tspan>emp.</text>
<text transform="translate(2031.34 94.32) scale(0.8930 0.9657)" font-family="Liberation Sans, sans-serif" font-size="45" fill="#000">o</text>
<text transform="translate(2052.86 134.11) scale(0.9978 1.0588)" font-family="Liberation Sans, sans-serif" font-size="72" fill="#000">C</text>
<text transform="translate(1653.88 221.90) scale(0.9741 1.0505)" clip-path="url(#footn72)" font-family="Liberation Sans, sans-serif" font-size="72" fill="#000">150</text>
<text transform="translate(1651.42 309.80) scale(0.9952 1.0328)" font-family="Liberation Sans, sans-serif" font-size="72" fill="#000">200</text>
<text transform="translate(1651.73 397.00) scale(0.9916 1.0289)" font-family="Liberation Sans, sans-serif" font-size="72" fill="#000">250</text>
<text transform="translate(1653.32 485.23) scale(0.9747 1.0333)" font-family="Liberation Sans, sans-serif" font-size="72" fill="#000">300</text>
<text transform="translate(1653.32 573.32) scale(0.9747 1.0353)" font-family="Liberation Sans, sans-serif" font-size="72" fill="#000">350</text>
</svg></body></html>
